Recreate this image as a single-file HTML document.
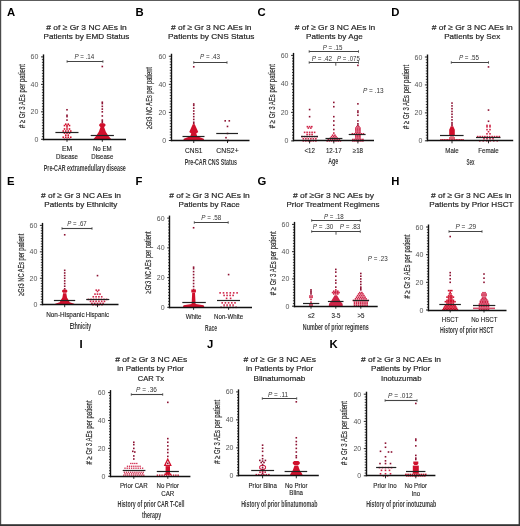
<!DOCTYPE html><html><head><meta charset="utf-8"><style>html,body{margin:0;padding:0;background:#fff}body{position:relative;width:520px;height:526px;overflow:hidden}svg{display:block;filter:blur(0.4px)}svg.bd{position:absolute;left:0;top:0;filter:none}</style></head><body>
<svg width="520" height="526" viewBox="0 0 520 526" font-family='"Liberation Sans", sans-serif'>
<rect x="0" y="0" width="520" height="526" fill="#fff"/>
<text x="6.90" y="16.20" font-size="11.3" text-anchor="start" fill="#000" font-weight="bold" font-style="normal">A</text>
<text x="86.55" y="29.80" font-size="8" text-anchor="middle" fill="#262626" font-weight="normal" font-style="normal" textLength="80.40" lengthAdjust="spacingAndGlyphs" stroke="#262626" stroke-width="0.2"># of ≥ Gr 3 NC AEs in</text>
<text x="86.45" y="39.20" font-size="8" text-anchor="middle" fill="#262626" font-weight="normal" font-style="normal" textLength="85.80" lengthAdjust="spacingAndGlyphs" stroke="#262626" stroke-width="0.2">Patients by EMD Status</text>
<rect x="66.20" y="108.97" width="1.6" height="1.6" fill="#8c1232"/>
<rect x="66.20" y="114.47" width="1.6" height="1.6" fill="#8c1232"/>
<rect x="66.20" y="115.84" width="1.6" height="1.6" fill="#8c1232"/>
<rect x="66.20" y="119.27" width="1.6" height="1.6" fill="#8c1232"/>
<rect x="64.95" y="123.39" width="1.6" height="1.6" fill="#d0102c"/>
<rect x="67.45" y="123.39" width="1.6" height="1.6" fill="#d0102c"/>
<rect x="63.70" y="124.77" width="1.6" height="1.6" fill="#d0102c"/>
<rect x="66.20" y="124.77" width="1.6" height="1.6" fill="#d0102c"/>
<rect x="68.70" y="124.77" width="1.6" height="1.6" fill="#d0102c"/>
<rect x="66.20" y="126.14" width="1.6" height="1.6" fill="#d0102c"/>
<rect x="63.70" y="128.20" width="1.6" height="1.6" fill="#d0102c"/>
<rect x="66.20" y="128.20" width="1.6" height="1.6" fill="#d0102c"/>
<rect x="68.70" y="128.20" width="1.6" height="1.6" fill="#d0102c"/>
<rect x="62.45" y="130.26" width="1.6" height="1.6" fill="#d0102c"/>
<rect x="64.95" y="130.26" width="1.6" height="1.6" fill="#d0102c"/>
<rect x="67.45" y="130.26" width="1.6" height="1.6" fill="#d0102c"/>
<rect x="69.95" y="130.26" width="1.6" height="1.6" fill="#d0102c"/>
<rect x="63.70" y="132.32" width="1.6" height="1.6" fill="#d0102c"/>
<rect x="66.20" y="132.32" width="1.6" height="1.6" fill="#d0102c"/>
<rect x="68.70" y="132.32" width="1.6" height="1.6" fill="#d0102c"/>
<rect x="64.95" y="134.38" width="1.6" height="1.6" fill="#d0102c"/>
<rect x="67.45" y="134.38" width="1.6" height="1.6" fill="#d0102c"/>
<rect x="62.45" y="136.44" width="1.6" height="1.6" fill="#d0102c"/>
<rect x="64.95" y="136.44" width="1.6" height="1.6" fill="#d0102c"/>
<rect x="67.45" y="136.44" width="1.6" height="1.6" fill="#d0102c"/>
<rect x="69.95" y="136.44" width="1.6" height="1.6" fill="#d0102c"/>
<rect x="63.70" y="138.50" width="1.6" height="1.6" fill="#d0102c"/>
<rect x="66.20" y="138.50" width="1.6" height="1.6" fill="#d0102c"/>
<rect x="68.70" y="138.50" width="1.6" height="1.6" fill="#d0102c"/>
<line x1="55.40" y1="132.50" x2="78.50" y2="132.50" stroke="#222" stroke-width="1.2"/>
<rect x="101.50" y="65.71" width="1.6" height="1.6" fill="#8c1232"/>
<rect x="101.50" y="101.42" width="1.6" height="1.6" fill="#8c1232"/>
<rect x="101.50" y="102.79" width="1.6" height="1.6" fill="#8c1232"/>
<rect x="101.50" y="105.54" width="1.6" height="1.6" fill="#8c1232"/>
<rect x="101.50" y="108.29" width="1.6" height="1.6" fill="#8c1232"/>
<rect x="101.50" y="111.03" width="1.6" height="1.6" fill="#8c1232"/>
<rect x="101.50" y="115.15" width="1.6" height="1.6" fill="#8c1232"/>
<rect x="101.50" y="119.27" width="1.6" height="1.6" fill="#8c1232"/>
<rect x="101.50" y="120.65" width="1.6" height="1.6" fill="#8c1232"/>
<rect x="101.50" y="122.02" width="1.6" height="1.6" fill="#8c1232"/>
<polygon points="100.44,126.94 99.20,125.87 99.20,124.44 100.44,123.37 104.16,123.37 105.40,124.44 105.40,125.87 104.16,126.94" fill="#d0102c"/>
<polygon points="93.10,139.57 96.30,135.87 98.80,131.75 100.80,126.25 103.80,126.25 105.80,131.75 108.30,135.87 111.50,139.57" fill="#d0102c"/>
<line x1="90.70" y1="135.50" x2="113.90" y2="135.50" stroke="#222" stroke-width="1.2"/>
<line x1="43.50" y1="54.40" x2="43.50" y2="140.20" stroke="#111" stroke-width="1.4"/>
<line x1="42.80" y1="139.50" x2="126.00" y2="139.50" stroke="#111" stroke-width="1.4"/>
<line x1="41.00" y1="139.30" x2="43.40" y2="139.30" stroke="#111" stroke-width="0.9"/>
<text x="38.40" y="141.80" font-size="7" text-anchor="end" fill="#555" font-weight="normal" font-style="normal">0</text>
<line x1="41.90" y1="136.55" x2="43.40" y2="136.55" stroke="#111" stroke-width="0.8"/>
<line x1="41.90" y1="133.81" x2="43.40" y2="133.81" stroke="#111" stroke-width="0.8"/>
<line x1="41.90" y1="131.06" x2="43.40" y2="131.06" stroke="#111" stroke-width="0.8"/>
<line x1="41.90" y1="128.31" x2="43.40" y2="128.31" stroke="#111" stroke-width="0.8"/>
<line x1="41.90" y1="125.57" x2="43.40" y2="125.57" stroke="#111" stroke-width="0.8"/>
<line x1="41.90" y1="122.82" x2="43.40" y2="122.82" stroke="#111" stroke-width="0.8"/>
<line x1="41.90" y1="120.07" x2="43.40" y2="120.07" stroke="#111" stroke-width="0.8"/>
<line x1="41.90" y1="117.33" x2="43.40" y2="117.33" stroke="#111" stroke-width="0.8"/>
<line x1="41.90" y1="114.58" x2="43.40" y2="114.58" stroke="#111" stroke-width="0.8"/>
<line x1="41.00" y1="111.83" x2="43.40" y2="111.83" stroke="#111" stroke-width="0.9"/>
<text x="38.40" y="114.33" font-size="7" text-anchor="end" fill="#555" font-weight="normal" font-style="normal">20</text>
<line x1="41.90" y1="109.09" x2="43.40" y2="109.09" stroke="#111" stroke-width="0.8"/>
<line x1="41.90" y1="106.34" x2="43.40" y2="106.34" stroke="#111" stroke-width="0.8"/>
<line x1="41.90" y1="103.59" x2="43.40" y2="103.59" stroke="#111" stroke-width="0.8"/>
<line x1="41.90" y1="100.85" x2="43.40" y2="100.85" stroke="#111" stroke-width="0.8"/>
<line x1="41.90" y1="98.10" x2="43.40" y2="98.10" stroke="#111" stroke-width="0.8"/>
<line x1="41.90" y1="95.35" x2="43.40" y2="95.35" stroke="#111" stroke-width="0.8"/>
<line x1="41.90" y1="92.61" x2="43.40" y2="92.61" stroke="#111" stroke-width="0.8"/>
<line x1="41.90" y1="89.86" x2="43.40" y2="89.86" stroke="#111" stroke-width="0.8"/>
<line x1="41.90" y1="87.11" x2="43.40" y2="87.11" stroke="#111" stroke-width="0.8"/>
<line x1="41.00" y1="84.37" x2="43.40" y2="84.37" stroke="#111" stroke-width="0.9"/>
<text x="38.40" y="86.87" font-size="7" text-anchor="end" fill="#555" font-weight="normal" font-style="normal">40</text>
<line x1="41.90" y1="81.62" x2="43.40" y2="81.62" stroke="#111" stroke-width="0.8"/>
<line x1="41.90" y1="78.87" x2="43.40" y2="78.87" stroke="#111" stroke-width="0.8"/>
<line x1="41.90" y1="76.13" x2="43.40" y2="76.13" stroke="#111" stroke-width="0.8"/>
<line x1="41.90" y1="73.38" x2="43.40" y2="73.38" stroke="#111" stroke-width="0.8"/>
<line x1="41.90" y1="70.63" x2="43.40" y2="70.63" stroke="#111" stroke-width="0.8"/>
<line x1="41.90" y1="67.89" x2="43.40" y2="67.89" stroke="#111" stroke-width="0.8"/>
<line x1="41.90" y1="65.14" x2="43.40" y2="65.14" stroke="#111" stroke-width="0.8"/>
<line x1="41.90" y1="62.39" x2="43.40" y2="62.39" stroke="#111" stroke-width="0.8"/>
<line x1="41.90" y1="59.65" x2="43.40" y2="59.65" stroke="#111" stroke-width="0.8"/>
<line x1="41.00" y1="56.90" x2="43.40" y2="56.90" stroke="#111" stroke-width="0.9"/>
<text x="38.40" y="59.40" font-size="7" text-anchor="end" fill="#555" font-weight="normal" font-style="normal">60</text>
<line x1="67.00" y1="139.30" x2="67.00" y2="141.80" stroke="#111" stroke-width="0.9"/>
<line x1="102.30" y1="139.30" x2="102.30" y2="141.80" stroke="#111" stroke-width="0.9"/>
<text transform="translate(24.60,96.10) rotate(-90)" x="0" y="0" font-size="8.8" font-weight="normal" text-anchor="middle" fill="#333" stroke="#333" stroke-width="0.22" textLength="64" lengthAdjust="spacingAndGlyphs"># ≥ Gr 3 AEs per patient</text>
<text x="67.00" y="151.00" font-size="7" text-anchor="middle" fill="#222" font-weight="normal" font-style="normal" textLength="10.20" lengthAdjust="spacingAndGlyphs" stroke="#222" stroke-width="0.12">EM</text>
<text x="67.00" y="158.70" font-size="7" text-anchor="middle" fill="#222" font-weight="normal" font-style="normal" textLength="22.00" lengthAdjust="spacingAndGlyphs" stroke="#222" stroke-width="0.12">Disease</text>
<text x="102.30" y="151.00" font-size="7" text-anchor="middle" fill="#222" font-weight="normal" font-style="normal" textLength="18.83" lengthAdjust="spacingAndGlyphs" stroke="#222" stroke-width="0.12">No EM</text>
<text x="102.30" y="158.70" font-size="7" text-anchor="middle" fill="#222" font-weight="normal" font-style="normal" textLength="22.00" lengthAdjust="spacingAndGlyphs" stroke="#222" stroke-width="0.12">Disease</text>
<text x="84.80" y="170.50" font-size="9" text-anchor="middle" fill="#383838" font-weight="bold" font-style="normal" textLength="82.00" lengthAdjust="spacingAndGlyphs">Pre-CAR extramedullary disease</text>
<line x1="67.10" y1="61.50" x2="102.90" y2="61.50" stroke="#444" stroke-width="1.1"/>
<line x1="67.10" y1="60.30" x2="67.10" y2="62.70" stroke="#444" stroke-width="0.9"/>
<line x1="102.90" y1="60.30" x2="102.90" y2="62.70" stroke="#444" stroke-width="0.9"/>
<text x="84.35" y="58.70" font-size="6.4" text-anchor="middle" fill="#333" textLength="19.90" lengthAdjust="spacingAndGlyphs"><tspan font-style="italic">P</tspan> = .14</text>
<text x="135.50" y="16.20" font-size="11.3" text-anchor="start" fill="#000" font-weight="bold" font-style="normal">B</text>
<text x="211.25" y="29.80" font-size="8" text-anchor="middle" fill="#262626" font-weight="normal" font-style="normal" textLength="80.50" lengthAdjust="spacingAndGlyphs" stroke="#262626" stroke-width="0.2"># of ≥ Gr 3 NC AEs in</text>
<text x="211.25" y="39.20" font-size="8" text-anchor="middle" fill="#262626" font-weight="normal" font-style="normal" textLength="86.50" lengthAdjust="spacingAndGlyphs" stroke="#262626" stroke-width="0.2">Patients by CNS Status</text>
<rect x="192.95" y="65.98" width="1.6" height="1.6" fill="#8c1232"/>
<rect x="192.95" y="103.19" width="1.6" height="1.6" fill="#8c1232"/>
<rect x="192.95" y="104.60" width="1.6" height="1.6" fill="#8c1232"/>
<rect x="192.95" y="107.40" width="1.6" height="1.6" fill="#8c1232"/>
<rect x="192.95" y="110.21" width="1.6" height="1.6" fill="#8c1232"/>
<rect x="192.95" y="113.02" width="1.6" height="1.6" fill="#8c1232"/>
<rect x="192.95" y="115.83" width="1.6" height="1.6" fill="#8c1232"/>
<rect x="192.95" y="118.64" width="1.6" height="1.6" fill="#8c1232"/>
<rect x="192.95" y="121.45" width="1.6" height="1.6" fill="#8c1232"/>
<rect x="192.95" y="122.85" width="1.6" height="1.6" fill="#8c1232"/>
<polygon points="192.75,124.35 194.75,124.35 198.25,132.07 196.25,133.48 197.25,136.29 203.75,138.81 204.25,140.78 183.25,140.78 183.75,138.81 190.25,136.29 191.25,133.48 189.25,132.07" fill="#d0102c"/>
<line x1="182.50" y1="136.50" x2="204.50" y2="136.50" stroke="#222" stroke-width="1.2"/>
<rect x="224.40" y="120.04" width="1.6" height="1.6" fill="#8c1232"/>
<rect x="228.50" y="120.04" width="1.6" height="1.6" fill="#8c1232"/>
<rect x="226.70" y="125.66" width="1.6" height="1.6" fill="#8c1232"/>
<rect x="226.70" y="132.68" width="1.6" height="1.6" fill="#8c1232"/>
<rect x="225.20" y="136.89" width="1.6" height="1.6" fill="#8c1232"/>
<rect x="227.20" y="139.70" width="1.6" height="1.6" fill="#8c1232"/>
<line x1="216.25" y1="133.50" x2="238.00" y2="133.50" stroke="#222" stroke-width="1.2"/>
<line x1="171.50" y1="53.75" x2="171.50" y2="141.20" stroke="#111" stroke-width="1.4"/>
<line x1="170.80" y1="140.50" x2="249.50" y2="140.50" stroke="#111" stroke-width="1.4"/>
<line x1="168.85" y1="140.50" x2="171.25" y2="140.50" stroke="#111" stroke-width="0.9"/>
<text x="166.25" y="143.00" font-size="7" text-anchor="end" fill="#555" font-weight="normal" font-style="normal">0</text>
<line x1="169.75" y1="137.69" x2="171.25" y2="137.69" stroke="#111" stroke-width="0.8"/>
<line x1="169.75" y1="134.88" x2="171.25" y2="134.88" stroke="#111" stroke-width="0.8"/>
<line x1="169.75" y1="132.07" x2="171.25" y2="132.07" stroke="#111" stroke-width="0.8"/>
<line x1="169.75" y1="129.27" x2="171.25" y2="129.27" stroke="#111" stroke-width="0.8"/>
<line x1="169.75" y1="126.46" x2="171.25" y2="126.46" stroke="#111" stroke-width="0.8"/>
<line x1="169.75" y1="123.65" x2="171.25" y2="123.65" stroke="#111" stroke-width="0.8"/>
<line x1="169.75" y1="120.84" x2="171.25" y2="120.84" stroke="#111" stroke-width="0.8"/>
<line x1="169.75" y1="118.03" x2="171.25" y2="118.03" stroke="#111" stroke-width="0.8"/>
<line x1="169.75" y1="115.22" x2="171.25" y2="115.22" stroke="#111" stroke-width="0.8"/>
<line x1="168.85" y1="112.42" x2="171.25" y2="112.42" stroke="#111" stroke-width="0.9"/>
<text x="166.25" y="114.92" font-size="7" text-anchor="end" fill="#555" font-weight="normal" font-style="normal">20</text>
<line x1="169.75" y1="109.61" x2="171.25" y2="109.61" stroke="#111" stroke-width="0.8"/>
<line x1="169.75" y1="106.80" x2="171.25" y2="106.80" stroke="#111" stroke-width="0.8"/>
<line x1="169.75" y1="103.99" x2="171.25" y2="103.99" stroke="#111" stroke-width="0.8"/>
<line x1="169.75" y1="101.18" x2="171.25" y2="101.18" stroke="#111" stroke-width="0.8"/>
<line x1="169.75" y1="98.38" x2="171.25" y2="98.38" stroke="#111" stroke-width="0.8"/>
<line x1="169.75" y1="95.57" x2="171.25" y2="95.57" stroke="#111" stroke-width="0.8"/>
<line x1="169.75" y1="92.76" x2="171.25" y2="92.76" stroke="#111" stroke-width="0.8"/>
<line x1="169.75" y1="89.95" x2="171.25" y2="89.95" stroke="#111" stroke-width="0.8"/>
<line x1="169.75" y1="87.14" x2="171.25" y2="87.14" stroke="#111" stroke-width="0.8"/>
<line x1="168.85" y1="84.33" x2="171.25" y2="84.33" stroke="#111" stroke-width="0.9"/>
<text x="166.25" y="86.83" font-size="7" text-anchor="end" fill="#555" font-weight="normal" font-style="normal">40</text>
<line x1="169.75" y1="81.53" x2="171.25" y2="81.53" stroke="#111" stroke-width="0.8"/>
<line x1="169.75" y1="78.72" x2="171.25" y2="78.72" stroke="#111" stroke-width="0.8"/>
<line x1="169.75" y1="75.91" x2="171.25" y2="75.91" stroke="#111" stroke-width="0.8"/>
<line x1="169.75" y1="73.10" x2="171.25" y2="73.10" stroke="#111" stroke-width="0.8"/>
<line x1="169.75" y1="70.29" x2="171.25" y2="70.29" stroke="#111" stroke-width="0.8"/>
<line x1="169.75" y1="67.48" x2="171.25" y2="67.48" stroke="#111" stroke-width="0.8"/>
<line x1="169.75" y1="64.68" x2="171.25" y2="64.68" stroke="#111" stroke-width="0.8"/>
<line x1="169.75" y1="61.87" x2="171.25" y2="61.87" stroke="#111" stroke-width="0.8"/>
<line x1="169.75" y1="59.06" x2="171.25" y2="59.06" stroke="#111" stroke-width="0.8"/>
<line x1="168.85" y1="56.25" x2="171.25" y2="56.25" stroke="#111" stroke-width="0.9"/>
<text x="166.25" y="58.75" font-size="7" text-anchor="end" fill="#555" font-weight="normal" font-style="normal">60</text>
<line x1="193.75" y1="140.50" x2="193.75" y2="143.00" stroke="#111" stroke-width="0.9"/>
<line x1="227.50" y1="140.50" x2="227.50" y2="143.00" stroke="#111" stroke-width="0.9"/>
<text transform="translate(152.45,98.08) rotate(-90)" x="0" y="0" font-size="8.8" font-weight="normal" text-anchor="middle" fill="#333" stroke="#333" stroke-width="0.22" textLength="62" lengthAdjust="spacingAndGlyphs">≥Gr3 NC AEs per patient</text>
<text x="193.75" y="152.50" font-size="7" text-anchor="middle" fill="#222" font-weight="normal" font-style="normal" textLength="17.60" lengthAdjust="spacingAndGlyphs" stroke="#222" stroke-width="0.12">CNS1</text>
<text x="227.50" y="152.50" font-size="7" text-anchor="middle" fill="#222" font-weight="normal" font-style="normal" textLength="22.40" lengthAdjust="spacingAndGlyphs" stroke="#222" stroke-width="0.12">CNS2+</text>
<text x="210.80" y="164.55" font-size="9" text-anchor="middle" fill="#383838" font-weight="bold" font-style="normal" textLength="52.30" lengthAdjust="spacingAndGlyphs">Pre-CAR CNS Status</text>
<line x1="193.75" y1="62.50" x2="227.00" y2="62.50" stroke="#444" stroke-width="1.1"/>
<line x1="193.75" y1="61.30" x2="193.75" y2="63.70" stroke="#444" stroke-width="0.9"/>
<line x1="227.00" y1="61.30" x2="227.00" y2="63.70" stroke="#444" stroke-width="0.9"/>
<text x="210.00" y="58.60" font-size="6.4" text-anchor="middle" fill="#333" textLength="20.00" lengthAdjust="spacingAndGlyphs"><tspan font-style="italic">P</tspan> = .43</text>
<text x="257.50" y="16.20" font-size="11.3" text-anchor="start" fill="#000" font-weight="bold" font-style="normal">C</text>
<text x="335.00" y="29.80" font-size="8" text-anchor="middle" fill="#262626" font-weight="normal" font-style="normal" textLength="80.50" lengthAdjust="spacingAndGlyphs" stroke="#262626" stroke-width="0.2"># of ≥ Gr 3 NC AEs in</text>
<text x="334.40" y="39.20" font-size="8" text-anchor="middle" fill="#262626" font-weight="normal" font-style="normal" textLength="56.70" lengthAdjust="spacingAndGlyphs" stroke="#262626" stroke-width="0.2">Patients by Age</text>
<rect x="308.80" y="108.75" width="1.6" height="1.6" fill="#8c1232"/>
<rect x="308.80" y="115.88" width="1.6" height="1.6" fill="#8c1232"/>
<rect x="306.60" y="125.85" width="1.6" height="1.6" fill="#cf2448"/>
<rect x="308.80" y="125.85" width="1.6" height="1.6" fill="#cf2448"/>
<rect x="311.00" y="125.85" width="1.6" height="1.6" fill="#cf2448"/>
<rect x="307.55" y="127.28" width="1.6" height="1.6" fill="#cf2448"/>
<rect x="310.05" y="127.28" width="1.6" height="1.6" fill="#cf2448"/>
<rect x="303.80" y="131.55" width="1.6" height="1.6" fill="#cf2448"/>
<rect x="306.30" y="131.55" width="1.6" height="1.6" fill="#cf2448"/>
<rect x="308.80" y="131.55" width="1.6" height="1.6" fill="#cf2448"/>
<rect x="311.30" y="131.55" width="1.6" height="1.6" fill="#cf2448"/>
<rect x="313.80" y="131.55" width="1.6" height="1.6" fill="#cf2448"/>
<rect x="306.30" y="133.69" width="1.6" height="1.6" fill="#cf2448"/>
<rect x="308.80" y="133.69" width="1.6" height="1.6" fill="#cf2448"/>
<rect x="311.30" y="133.69" width="1.6" height="1.6" fill="#cf2448"/>
<rect x="301.30" y="135.82" width="1.6" height="1.6" fill="#cf2448"/>
<rect x="303.80" y="135.82" width="1.6" height="1.6" fill="#cf2448"/>
<rect x="306.30" y="135.82" width="1.6" height="1.6" fill="#cf2448"/>
<rect x="308.80" y="135.82" width="1.6" height="1.6" fill="#cf2448"/>
<rect x="311.30" y="135.82" width="1.6" height="1.6" fill="#cf2448"/>
<rect x="313.80" y="135.82" width="1.6" height="1.6" fill="#cf2448"/>
<rect x="316.30" y="135.82" width="1.6" height="1.6" fill="#cf2448"/>
<rect x="302.55" y="137.96" width="1.6" height="1.6" fill="#cf2448"/>
<rect x="305.05" y="137.96" width="1.6" height="1.6" fill="#cf2448"/>
<rect x="307.55" y="137.96" width="1.6" height="1.6" fill="#cf2448"/>
<rect x="310.05" y="137.96" width="1.6" height="1.6" fill="#cf2448"/>
<rect x="312.55" y="137.96" width="1.6" height="1.6" fill="#cf2448"/>
<rect x="315.05" y="137.96" width="1.6" height="1.6" fill="#cf2448"/>
<rect x="302.55" y="140.10" width="1.6" height="1.6" fill="#cf2448"/>
<rect x="305.05" y="140.10" width="1.6" height="1.6" fill="#cf2448"/>
<rect x="307.55" y="140.10" width="1.6" height="1.6" fill="#cf2448"/>
<rect x="310.05" y="140.10" width="1.6" height="1.6" fill="#cf2448"/>
<rect x="312.55" y="140.10" width="1.6" height="1.6" fill="#cf2448"/>
<rect x="315.05" y="140.10" width="1.6" height="1.6" fill="#cf2448"/>
<line x1="301.00" y1="136.50" x2="318.00" y2="136.50" stroke="#222" stroke-width="1.2"/>
<rect x="333.00" y="101.63" width="1.6" height="1.6" fill="#8c1232"/>
<rect x="333.00" y="105.90" width="1.6" height="1.6" fill="#8c1232"/>
<rect x="333.00" y="115.88" width="1.6" height="1.6" fill="#8c1232"/>
<rect x="333.00" y="120.15" width="1.6" height="1.6" fill="#8c1232"/>
<rect x="333.00" y="124.43" width="1.6" height="1.6" fill="#8c1232"/>
<rect x="333.00" y="128.70" width="1.6" height="1.6" fill="#8c1232"/>
<rect x="333.00" y="132.26" width="1.6" height="1.6" fill="#cf2448"/>
<rect x="331.90" y="134.40" width="1.6" height="1.6" fill="#cf2448"/>
<rect x="334.10" y="134.40" width="1.6" height="1.6" fill="#cf2448"/>
<rect x="330.80" y="135.82" width="1.6" height="1.6" fill="#cf2448"/>
<rect x="333.00" y="135.82" width="1.6" height="1.6" fill="#cf2448"/>
<rect x="335.20" y="135.82" width="1.6" height="1.6" fill="#cf2448"/>
<rect x="329.70" y="137.25" width="1.6" height="1.6" fill="#cf2448"/>
<rect x="331.90" y="137.25" width="1.6" height="1.6" fill="#cf2448"/>
<rect x="334.10" y="137.25" width="1.6" height="1.6" fill="#cf2448"/>
<rect x="336.30" y="137.25" width="1.6" height="1.6" fill="#cf2448"/>
<rect x="327.50" y="138.67" width="1.6" height="1.6" fill="#cf2448"/>
<rect x="329.70" y="138.67" width="1.6" height="1.6" fill="#cf2448"/>
<rect x="331.90" y="138.67" width="1.6" height="1.6" fill="#cf2448"/>
<rect x="334.10" y="138.67" width="1.6" height="1.6" fill="#cf2448"/>
<rect x="336.30" y="138.67" width="1.6" height="1.6" fill="#cf2448"/>
<rect x="338.50" y="138.67" width="1.6" height="1.6" fill="#cf2448"/>
<rect x="326.40" y="140.10" width="1.6" height="1.6" fill="#cf2448"/>
<rect x="328.60" y="140.10" width="1.6" height="1.6" fill="#cf2448"/>
<rect x="330.80" y="140.10" width="1.6" height="1.6" fill="#cf2448"/>
<rect x="333.00" y="140.10" width="1.6" height="1.6" fill="#cf2448"/>
<rect x="335.20" y="140.10" width="1.6" height="1.6" fill="#cf2448"/>
<rect x="337.40" y="140.10" width="1.6" height="1.6" fill="#cf2448"/>
<rect x="339.60" y="140.10" width="1.6" height="1.6" fill="#cf2448"/>
<line x1="325.50" y1="138.50" x2="342.40" y2="138.50" stroke="#222" stroke-width="1.2"/>
<rect x="357.10" y="64.58" width="1.6" height="1.6" fill="#8c1232"/>
<rect x="357.10" y="103.05" width="1.6" height="1.6" fill="#8c1232"/>
<rect x="357.10" y="110.18" width="1.6" height="1.6" fill="#8c1232"/>
<rect x="357.10" y="111.60" width="1.6" height="1.6" fill="#8c1232"/>
<rect x="357.10" y="114.45" width="1.6" height="1.6" fill="#8c1232"/>
<rect x="357.10" y="120.15" width="1.6" height="1.6" fill="#8c1232"/>
<rect x="357.10" y="123.00" width="1.6" height="1.6" fill="#8c1232"/>
<rect x="357.10" y="124.43" width="1.6" height="1.6" fill="#8c1232"/>
<rect x="356.10" y="125.85" width="1.6" height="1.6" fill="#cf2448"/>
<rect x="358.10" y="125.85" width="1.6" height="1.6" fill="#cf2448"/>
<rect x="355.10" y="127.28" width="1.6" height="1.6" fill="#cf2448"/>
<rect x="357.10" y="127.28" width="1.6" height="1.6" fill="#cf2448"/>
<rect x="359.10" y="127.28" width="1.6" height="1.6" fill="#cf2448"/>
<rect x="355.10" y="128.70" width="1.6" height="1.6" fill="#cf2448"/>
<rect x="357.10" y="128.70" width="1.6" height="1.6" fill="#cf2448"/>
<rect x="359.10" y="128.70" width="1.6" height="1.6" fill="#cf2448"/>
<rect x="355.10" y="130.12" width="1.6" height="1.6" fill="#cf2448"/>
<rect x="357.10" y="130.12" width="1.6" height="1.6" fill="#cf2448"/>
<rect x="359.10" y="130.12" width="1.6" height="1.6" fill="#cf2448"/>
<rect x="355.10" y="131.55" width="1.6" height="1.6" fill="#cf2448"/>
<rect x="357.10" y="131.55" width="1.6" height="1.6" fill="#cf2448"/>
<rect x="359.10" y="131.55" width="1.6" height="1.6" fill="#cf2448"/>
<rect x="351.60" y="132.97" width="1.6" height="1.6" fill="#cf2448"/>
<rect x="353.80" y="132.97" width="1.6" height="1.6" fill="#cf2448"/>
<rect x="356.00" y="132.97" width="1.6" height="1.6" fill="#cf2448"/>
<rect x="358.20" y="132.97" width="1.6" height="1.6" fill="#cf2448"/>
<rect x="360.40" y="132.97" width="1.6" height="1.6" fill="#cf2448"/>
<rect x="362.60" y="132.97" width="1.6" height="1.6" fill="#cf2448"/>
<rect x="355.10" y="134.40" width="1.6" height="1.6" fill="#cf2448"/>
<rect x="357.10" y="134.40" width="1.6" height="1.6" fill="#cf2448"/>
<rect x="359.10" y="134.40" width="1.6" height="1.6" fill="#cf2448"/>
<rect x="355.10" y="135.82" width="1.6" height="1.6" fill="#cf2448"/>
<rect x="357.10" y="135.82" width="1.6" height="1.6" fill="#cf2448"/>
<rect x="359.10" y="135.82" width="1.6" height="1.6" fill="#cf2448"/>
<rect x="355.10" y="137.25" width="1.6" height="1.6" fill="#cf2448"/>
<rect x="357.10" y="137.25" width="1.6" height="1.6" fill="#cf2448"/>
<rect x="359.10" y="137.25" width="1.6" height="1.6" fill="#cf2448"/>
<rect x="352.10" y="138.67" width="1.6" height="1.6" fill="#cf2448"/>
<rect x="354.10" y="138.67" width="1.6" height="1.6" fill="#cf2448"/>
<rect x="356.10" y="138.67" width="1.6" height="1.6" fill="#cf2448"/>
<rect x="358.10" y="138.67" width="1.6" height="1.6" fill="#cf2448"/>
<rect x="360.10" y="138.67" width="1.6" height="1.6" fill="#cf2448"/>
<rect x="362.10" y="138.67" width="1.6" height="1.6" fill="#cf2448"/>
<rect x="352.10" y="140.10" width="1.6" height="1.6" fill="#cf2448"/>
<rect x="354.10" y="140.10" width="1.6" height="1.6" fill="#cf2448"/>
<rect x="356.10" y="140.10" width="1.6" height="1.6" fill="#cf2448"/>
<rect x="358.10" y="140.10" width="1.6" height="1.6" fill="#cf2448"/>
<rect x="360.10" y="140.10" width="1.6" height="1.6" fill="#cf2448"/>
<rect x="362.10" y="140.10" width="1.6" height="1.6" fill="#cf2448"/>
<line x1="348.70" y1="134.50" x2="365.60" y2="134.50" stroke="#222" stroke-width="1.2"/>
<line x1="293.50" y1="52.90" x2="293.50" y2="141.20" stroke="#111" stroke-width="1.4"/>
<line x1="292.80" y1="140.50" x2="374.00" y2="140.50" stroke="#111" stroke-width="1.4"/>
<line x1="291.10" y1="140.90" x2="293.50" y2="140.90" stroke="#111" stroke-width="0.9"/>
<text x="288.50" y="143.40" font-size="7" text-anchor="end" fill="#555" font-weight="normal" font-style="normal">0</text>
<line x1="292.00" y1="138.05" x2="293.50" y2="138.05" stroke="#111" stroke-width="0.8"/>
<line x1="292.00" y1="135.20" x2="293.50" y2="135.20" stroke="#111" stroke-width="0.8"/>
<line x1="292.00" y1="132.35" x2="293.50" y2="132.35" stroke="#111" stroke-width="0.8"/>
<line x1="292.00" y1="129.50" x2="293.50" y2="129.50" stroke="#111" stroke-width="0.8"/>
<line x1="292.00" y1="126.65" x2="293.50" y2="126.65" stroke="#111" stroke-width="0.8"/>
<line x1="292.00" y1="123.80" x2="293.50" y2="123.80" stroke="#111" stroke-width="0.8"/>
<line x1="292.00" y1="120.95" x2="293.50" y2="120.95" stroke="#111" stroke-width="0.8"/>
<line x1="292.00" y1="118.10" x2="293.50" y2="118.10" stroke="#111" stroke-width="0.8"/>
<line x1="292.00" y1="115.25" x2="293.50" y2="115.25" stroke="#111" stroke-width="0.8"/>
<line x1="291.10" y1="112.40" x2="293.50" y2="112.40" stroke="#111" stroke-width="0.9"/>
<text x="288.50" y="114.90" font-size="7" text-anchor="end" fill="#555" font-weight="normal" font-style="normal">20</text>
<line x1="292.00" y1="109.55" x2="293.50" y2="109.55" stroke="#111" stroke-width="0.8"/>
<line x1="292.00" y1="106.70" x2="293.50" y2="106.70" stroke="#111" stroke-width="0.8"/>
<line x1="292.00" y1="103.85" x2="293.50" y2="103.85" stroke="#111" stroke-width="0.8"/>
<line x1="292.00" y1="101.00" x2="293.50" y2="101.00" stroke="#111" stroke-width="0.8"/>
<line x1="292.00" y1="98.15" x2="293.50" y2="98.15" stroke="#111" stroke-width="0.8"/>
<line x1="292.00" y1="95.30" x2="293.50" y2="95.30" stroke="#111" stroke-width="0.8"/>
<line x1="292.00" y1="92.45" x2="293.50" y2="92.45" stroke="#111" stroke-width="0.8"/>
<line x1="292.00" y1="89.60" x2="293.50" y2="89.60" stroke="#111" stroke-width="0.8"/>
<line x1="292.00" y1="86.75" x2="293.50" y2="86.75" stroke="#111" stroke-width="0.8"/>
<line x1="291.10" y1="83.90" x2="293.50" y2="83.90" stroke="#111" stroke-width="0.9"/>
<text x="288.50" y="86.40" font-size="7" text-anchor="end" fill="#555" font-weight="normal" font-style="normal">40</text>
<line x1="292.00" y1="81.05" x2="293.50" y2="81.05" stroke="#111" stroke-width="0.8"/>
<line x1="292.00" y1="78.20" x2="293.50" y2="78.20" stroke="#111" stroke-width="0.8"/>
<line x1="292.00" y1="75.35" x2="293.50" y2="75.35" stroke="#111" stroke-width="0.8"/>
<line x1="292.00" y1="72.50" x2="293.50" y2="72.50" stroke="#111" stroke-width="0.8"/>
<line x1="292.00" y1="69.65" x2="293.50" y2="69.65" stroke="#111" stroke-width="0.8"/>
<line x1="292.00" y1="66.80" x2="293.50" y2="66.80" stroke="#111" stroke-width="0.8"/>
<line x1="292.00" y1="63.95" x2="293.50" y2="63.95" stroke="#111" stroke-width="0.8"/>
<line x1="292.00" y1="61.10" x2="293.50" y2="61.10" stroke="#111" stroke-width="0.8"/>
<line x1="292.00" y1="58.25" x2="293.50" y2="58.25" stroke="#111" stroke-width="0.8"/>
<line x1="291.10" y1="55.40" x2="293.50" y2="55.40" stroke="#111" stroke-width="0.9"/>
<text x="288.50" y="57.90" font-size="7" text-anchor="end" fill="#555" font-weight="normal" font-style="normal">60</text>
<line x1="309.60" y1="140.90" x2="309.60" y2="143.40" stroke="#111" stroke-width="0.9"/>
<line x1="333.80" y1="140.90" x2="333.80" y2="143.40" stroke="#111" stroke-width="0.9"/>
<line x1="357.90" y1="140.90" x2="357.90" y2="143.40" stroke="#111" stroke-width="0.9"/>
<text transform="translate(274.70,96.15) rotate(-90)" x="0" y="0" font-size="8.8" font-weight="normal" text-anchor="middle" fill="#333" stroke="#333" stroke-width="0.22" textLength="64" lengthAdjust="spacingAndGlyphs"># ≥ Gr 3 AEs per patient</text>
<text x="309.60" y="152.90" font-size="7" text-anchor="middle" fill="#222" font-weight="normal" font-style="normal" textLength="10.45" lengthAdjust="spacingAndGlyphs" stroke="#222" stroke-width="0.12">&lt;12</text>
<text x="333.80" y="152.90" font-size="7" text-anchor="middle" fill="#222" font-weight="normal" font-style="normal" textLength="15.75" lengthAdjust="spacingAndGlyphs" stroke="#222" stroke-width="0.12">12-17</text>
<text x="357.90" y="152.90" font-size="7" text-anchor="middle" fill="#222" font-weight="normal" font-style="normal" textLength="10.23" lengthAdjust="spacingAndGlyphs" stroke="#222" stroke-width="0.12">≥18</text>
<text x="333.20" y="164.30" font-size="9" text-anchor="middle" fill="#383838" font-weight="bold" font-style="normal" textLength="10.00" lengthAdjust="spacingAndGlyphs">Age</text>
<line x1="309.20" y1="51.50" x2="358.50" y2="51.50" stroke="#444" stroke-width="1.1"/>
<line x1="309.20" y1="50.30" x2="309.20" y2="52.70" stroke="#444" stroke-width="0.9"/>
<line x1="358.50" y1="50.30" x2="358.50" y2="52.70" stroke="#444" stroke-width="0.9"/>
<line x1="309.20" y1="62.50" x2="358.50" y2="62.50" stroke="#444" stroke-width="1.1"/>
<line x1="309.20" y1="61.30" x2="309.20" y2="63.70" stroke="#444" stroke-width="0.9"/>
<line x1="358.50" y1="61.30" x2="358.50" y2="63.70" stroke="#444" stroke-width="0.9"/>
<line x1="335.80" y1="62.00" x2="335.80" y2="65.70" stroke="#444" stroke-width="0.9"/>
<text x="332.60" y="50.40" font-size="6.4" text-anchor="middle" fill="#333" textLength="19.80" lengthAdjust="spacingAndGlyphs"><tspan font-style="italic">P</tspan> = .15</text>
<text x="321.85" y="60.60" font-size="6.4" text-anchor="middle" fill="#333" textLength="20.30" lengthAdjust="spacingAndGlyphs"><tspan font-style="italic">P</tspan> = .42</text>
<text x="348.45" y="60.60" font-size="6.4" text-anchor="middle" fill="#333" textLength="22.70" lengthAdjust="spacingAndGlyphs"><tspan font-style="italic">P</tspan> = .075</text>
<text x="373.25" y="93.30" font-size="6.4" text-anchor="middle" fill="#333" textLength="20.70" lengthAdjust="spacingAndGlyphs"><tspan font-style="italic">P</tspan> = .13</text>
<text x="391.25" y="16.20" font-size="11.3" text-anchor="start" fill="#000" font-weight="bold" font-style="normal">D</text>
<text x="472.25" y="29.80" font-size="8" text-anchor="middle" fill="#262626" font-weight="normal" font-style="normal" textLength="81.00" lengthAdjust="spacingAndGlyphs" stroke="#262626" stroke-width="0.2"># of ≥ Gr 3 NC AEs in</text>
<text x="472.25" y="39.20" font-size="8" text-anchor="middle" fill="#262626" font-weight="normal" font-style="normal" textLength="56.00" lengthAdjust="spacingAndGlyphs" stroke="#262626" stroke-width="0.2">Patients by Sex</text>
<rect x="451.20" y="102.29" width="1.6" height="1.6" fill="#8c1232"/>
<rect x="451.20" y="105.08" width="1.6" height="1.6" fill="#8c1232"/>
<rect x="451.20" y="107.88" width="1.6" height="1.6" fill="#8c1232"/>
<rect x="451.20" y="110.67" width="1.6" height="1.6" fill="#8c1232"/>
<rect x="451.20" y="113.46" width="1.6" height="1.6" fill="#8c1232"/>
<rect x="451.20" y="116.26" width="1.6" height="1.6" fill="#8c1232"/>
<rect x="451.20" y="119.05" width="1.6" height="1.6" fill="#8c1232"/>
<rect x="451.20" y="121.84" width="1.6" height="1.6" fill="#8c1232"/>
<rect x="451.20" y="123.24" width="1.6" height="1.6" fill="#8c1232"/>
<rect x="451.20" y="124.64" width="1.6" height="1.6" fill="#8c1232"/>
<polygon points="450.80,126.14 453.20,126.14 454.80,129.63 454.80,134.52 453.80,136.61 450.20,136.61 449.20,134.52 449.20,129.63" fill="#d0102c"/>
<rect x="449.20" y="137.21" width="1.6" height="1.6" fill="#d0102c"/>
<rect x="451.20" y="137.21" width="1.6" height="1.6" fill="#d0102c"/>
<rect x="453.20" y="137.21" width="1.6" height="1.6" fill="#d0102c"/>
<rect x="440.15" y="139.16" width="1.6" height="1.6" fill="#d0102c"/>
<rect x="441.85" y="139.16" width="1.6" height="1.6" fill="#d0102c"/>
<rect x="443.55" y="139.16" width="1.6" height="1.6" fill="#d0102c"/>
<rect x="445.25" y="139.16" width="1.6" height="1.6" fill="#d0102c"/>
<rect x="446.95" y="139.16" width="1.6" height="1.6" fill="#d0102c"/>
<rect x="448.65" y="139.16" width="1.6" height="1.6" fill="#d0102c"/>
<rect x="450.35" y="139.16" width="1.6" height="1.6" fill="#d0102c"/>
<rect x="452.05" y="139.16" width="1.6" height="1.6" fill="#d0102c"/>
<rect x="453.75" y="139.16" width="1.6" height="1.6" fill="#d0102c"/>
<rect x="455.45" y="139.16" width="1.6" height="1.6" fill="#d0102c"/>
<rect x="457.15" y="139.16" width="1.6" height="1.6" fill="#d0102c"/>
<rect x="458.85" y="139.16" width="1.6" height="1.6" fill="#d0102c"/>
<rect x="460.55" y="139.16" width="1.6" height="1.6" fill="#d0102c"/>
<rect x="462.25" y="139.16" width="1.6" height="1.6" fill="#d0102c"/>
<line x1="440.00" y1="135.50" x2="463.60" y2="135.50" stroke="#222" stroke-width="1.2"/>
<rect x="487.70" y="66.12" width="1.6" height="1.6" fill="#8c1232"/>
<rect x="487.70" y="109.27" width="1.6" height="1.6" fill="#8c1232"/>
<rect x="487.70" y="120.45" width="1.6" height="1.6" fill="#8c1232"/>
<rect x="486.20" y="124.64" width="1.6" height="1.6" fill="#cf2448"/>
<rect x="489.20" y="124.64" width="1.6" height="1.6" fill="#cf2448"/>
<rect x="486.20" y="126.03" width="1.6" height="1.6" fill="#cf2448"/>
<rect x="489.20" y="126.03" width="1.6" height="1.6" fill="#cf2448"/>
<rect x="486.20" y="128.83" width="1.6" height="1.6" fill="#cf2448"/>
<rect x="489.20" y="128.83" width="1.6" height="1.6" fill="#cf2448"/>
<rect x="487.70" y="130.92" width="1.6" height="1.6" fill="#cf2448"/>
<rect x="486.20" y="133.02" width="1.6" height="1.6" fill="#cf2448"/>
<rect x="489.20" y="133.02" width="1.6" height="1.6" fill="#cf2448"/>
<rect x="476.90" y="135.81" width="1.6" height="1.6" fill="#cf2448"/>
<rect x="479.30" y="135.81" width="1.6" height="1.6" fill="#cf2448"/>
<rect x="481.70" y="135.81" width="1.6" height="1.6" fill="#cf2448"/>
<rect x="484.10" y="135.81" width="1.6" height="1.6" fill="#cf2448"/>
<rect x="486.50" y="135.81" width="1.6" height="1.6" fill="#cf2448"/>
<rect x="488.90" y="135.81" width="1.6" height="1.6" fill="#cf2448"/>
<rect x="491.30" y="135.81" width="1.6" height="1.6" fill="#cf2448"/>
<rect x="493.70" y="135.81" width="1.6" height="1.6" fill="#cf2448"/>
<rect x="496.10" y="135.81" width="1.6" height="1.6" fill="#cf2448"/>
<rect x="498.50" y="135.81" width="1.6" height="1.6" fill="#cf2448"/>
<rect x="483.20" y="137.91" width="1.6" height="1.6" fill="#cf2448"/>
<rect x="486.20" y="137.91" width="1.6" height="1.6" fill="#cf2448"/>
<rect x="489.20" y="137.91" width="1.6" height="1.6" fill="#cf2448"/>
<rect x="492.20" y="137.91" width="1.6" height="1.6" fill="#cf2448"/>
<rect x="478.95" y="140.00" width="1.6" height="1.6" fill="#cf2448"/>
<rect x="482.45" y="140.00" width="1.6" height="1.6" fill="#cf2448"/>
<rect x="485.95" y="140.00" width="1.6" height="1.6" fill="#cf2448"/>
<rect x="489.45" y="140.00" width="1.6" height="1.6" fill="#cf2448"/>
<rect x="492.95" y="140.00" width="1.6" height="1.6" fill="#cf2448"/>
<rect x="496.45" y="140.00" width="1.6" height="1.6" fill="#cf2448"/>
<line x1="476.00" y1="137.50" x2="500.50" y2="137.50" stroke="#222" stroke-width="1.2"/>
<line x1="427.50" y1="54.50" x2="427.50" y2="141.20" stroke="#111" stroke-width="1.4"/>
<line x1="426.80" y1="140.50" x2="513.20" y2="140.50" stroke="#111" stroke-width="1.4"/>
<line x1="424.90" y1="140.80" x2="427.30" y2="140.80" stroke="#111" stroke-width="0.9"/>
<text x="422.30" y="143.30" font-size="7" text-anchor="end" fill="#555" font-weight="normal" font-style="normal">0</text>
<line x1="425.80" y1="138.01" x2="427.30" y2="138.01" stroke="#111" stroke-width="0.8"/>
<line x1="425.80" y1="135.21" x2="427.30" y2="135.21" stroke="#111" stroke-width="0.8"/>
<line x1="425.80" y1="132.42" x2="427.30" y2="132.42" stroke="#111" stroke-width="0.8"/>
<line x1="425.80" y1="129.63" x2="427.30" y2="129.63" stroke="#111" stroke-width="0.8"/>
<line x1="425.80" y1="126.83" x2="427.30" y2="126.83" stroke="#111" stroke-width="0.8"/>
<line x1="425.80" y1="124.04" x2="427.30" y2="124.04" stroke="#111" stroke-width="0.8"/>
<line x1="425.80" y1="121.25" x2="427.30" y2="121.25" stroke="#111" stroke-width="0.8"/>
<line x1="425.80" y1="118.45" x2="427.30" y2="118.45" stroke="#111" stroke-width="0.8"/>
<line x1="425.80" y1="115.66" x2="427.30" y2="115.66" stroke="#111" stroke-width="0.8"/>
<line x1="424.90" y1="112.87" x2="427.30" y2="112.87" stroke="#111" stroke-width="0.9"/>
<text x="422.30" y="115.37" font-size="7" text-anchor="end" fill="#555" font-weight="normal" font-style="normal">20</text>
<line x1="425.80" y1="110.07" x2="427.30" y2="110.07" stroke="#111" stroke-width="0.8"/>
<line x1="425.80" y1="107.28" x2="427.30" y2="107.28" stroke="#111" stroke-width="0.8"/>
<line x1="425.80" y1="104.49" x2="427.30" y2="104.49" stroke="#111" stroke-width="0.8"/>
<line x1="425.80" y1="101.69" x2="427.30" y2="101.69" stroke="#111" stroke-width="0.8"/>
<line x1="425.80" y1="98.90" x2="427.30" y2="98.90" stroke="#111" stroke-width="0.8"/>
<line x1="425.80" y1="96.11" x2="427.30" y2="96.11" stroke="#111" stroke-width="0.8"/>
<line x1="425.80" y1="93.31" x2="427.30" y2="93.31" stroke="#111" stroke-width="0.8"/>
<line x1="425.80" y1="90.52" x2="427.30" y2="90.52" stroke="#111" stroke-width="0.8"/>
<line x1="425.80" y1="87.73" x2="427.30" y2="87.73" stroke="#111" stroke-width="0.8"/>
<line x1="424.90" y1="84.93" x2="427.30" y2="84.93" stroke="#111" stroke-width="0.9"/>
<text x="422.30" y="87.43" font-size="7" text-anchor="end" fill="#555" font-weight="normal" font-style="normal">40</text>
<line x1="425.80" y1="82.14" x2="427.30" y2="82.14" stroke="#111" stroke-width="0.8"/>
<line x1="425.80" y1="79.35" x2="427.30" y2="79.35" stroke="#111" stroke-width="0.8"/>
<line x1="425.80" y1="76.55" x2="427.30" y2="76.55" stroke="#111" stroke-width="0.8"/>
<line x1="425.80" y1="73.76" x2="427.30" y2="73.76" stroke="#111" stroke-width="0.8"/>
<line x1="425.80" y1="70.97" x2="427.30" y2="70.97" stroke="#111" stroke-width="0.8"/>
<line x1="425.80" y1="68.17" x2="427.30" y2="68.17" stroke="#111" stroke-width="0.8"/>
<line x1="425.80" y1="65.38" x2="427.30" y2="65.38" stroke="#111" stroke-width="0.8"/>
<line x1="425.80" y1="62.59" x2="427.30" y2="62.59" stroke="#111" stroke-width="0.8"/>
<line x1="425.80" y1="59.79" x2="427.30" y2="59.79" stroke="#111" stroke-width="0.8"/>
<line x1="424.90" y1="57.00" x2="427.30" y2="57.00" stroke="#111" stroke-width="0.9"/>
<text x="422.30" y="59.50" font-size="7" text-anchor="end" fill="#555" font-weight="normal" font-style="normal">60</text>
<line x1="452.00" y1="140.80" x2="452.00" y2="143.30" stroke="#111" stroke-width="0.9"/>
<line x1="488.50" y1="140.80" x2="488.50" y2="143.30" stroke="#111" stroke-width="0.9"/>
<text transform="translate(408.50,96.90) rotate(-90)" x="0" y="0" font-size="8.8" font-weight="normal" text-anchor="middle" fill="#333" stroke="#333" stroke-width="0.22" textLength="64" lengthAdjust="spacingAndGlyphs"># ≥ Gr 3 AEs per patient</text>
<text x="452.00" y="152.80" font-size="7" text-anchor="middle" fill="#222" font-weight="normal" font-style="normal" textLength="13.35" lengthAdjust="spacingAndGlyphs" stroke="#222" stroke-width="0.12">Male</text>
<text x="488.50" y="152.80" font-size="7" text-anchor="middle" fill="#222" font-weight="normal" font-style="normal" textLength="20.54" lengthAdjust="spacingAndGlyphs" stroke="#222" stroke-width="0.12">Female</text>
<text x="470.40" y="164.50" font-size="9" text-anchor="middle" fill="#383838" font-weight="bold" font-style="normal" textLength="8.00" lengthAdjust="spacingAndGlyphs">Sex</text>
<line x1="451.30" y1="62.50" x2="488.50" y2="62.50" stroke="#444" stroke-width="1.1"/>
<line x1="451.30" y1="61.30" x2="451.30" y2="63.70" stroke="#444" stroke-width="0.9"/>
<line x1="488.50" y1="61.30" x2="488.50" y2="63.70" stroke="#444" stroke-width="0.9"/>
<text x="468.95" y="60.00" font-size="6.4" text-anchor="middle" fill="#333" textLength="20.10" lengthAdjust="spacingAndGlyphs"><tspan font-style="italic">P</tspan> = .55</text>
<text x="7.00" y="185.10" font-size="11.3" text-anchor="start" fill="#000" font-weight="bold" font-style="normal">E</text>
<text x="81.00" y="198.40" font-size="8" text-anchor="middle" fill="#262626" font-weight="normal" font-style="normal" textLength="80.00" lengthAdjust="spacingAndGlyphs" stroke="#262626" stroke-width="0.2"># of ≥ Gr 3 NC AEs in</text>
<text x="80.75" y="207.20" font-size="8" text-anchor="middle" fill="#262626" font-weight="normal" font-style="normal" textLength="73.00" lengthAdjust="spacingAndGlyphs" stroke="#262626" stroke-width="0.2">Patients by Ethnicity</text>
<rect x="63.90" y="233.98" width="1.6" height="1.6" fill="#8c1232"/>
<rect x="63.90" y="269.54" width="1.6" height="1.6" fill="#8c1232"/>
<rect x="63.90" y="272.18" width="1.6" height="1.6" fill="#8c1232"/>
<rect x="63.90" y="274.82" width="1.6" height="1.6" fill="#8c1232"/>
<rect x="63.90" y="277.47" width="1.6" height="1.6" fill="#8c1232"/>
<rect x="63.90" y="280.11" width="1.6" height="1.6" fill="#8c1232"/>
<rect x="63.90" y="282.75" width="1.6" height="1.6" fill="#8c1232"/>
<rect x="63.90" y="285.40" width="1.6" height="1.6" fill="#8c1232"/>
<rect x="63.90" y="288.04" width="1.6" height="1.6" fill="#8c1232"/>
<polygon points="63.14,292.81 62.10,291.81 62.10,290.49 63.14,289.50 66.26,289.50 67.30,290.49 67.30,291.81 66.26,292.81" fill="#d0102c"/>
<polygon points="54.70,304.96 55.20,303.64 59.70,302.32 60.90,300.07 62.40,297.43 63.10,293.20 66.30,293.20 67.00,297.43 68.50,300.07 69.70,302.32 74.20,303.64 74.70,304.96" fill="#d0102c"/>
<line x1="53.90" y1="300.50" x2="75.20" y2="300.50" stroke="#222" stroke-width="1.2"/>
<rect x="96.70" y="274.82" width="1.6" height="1.6" fill="#8c1232"/>
<rect x="95.45" y="289.36" width="1.6" height="1.6" fill="#cf2448"/>
<rect x="97.95" y="289.36" width="1.6" height="1.6" fill="#cf2448"/>
<rect x="96.70" y="290.68" width="1.6" height="1.6" fill="#cf2448"/>
<rect x="94.20" y="293.33" width="1.6" height="1.6" fill="#cf2448"/>
<rect x="96.70" y="293.33" width="1.6" height="1.6" fill="#cf2448"/>
<rect x="99.20" y="293.33" width="1.6" height="1.6" fill="#cf2448"/>
<rect x="92.50" y="295.97" width="1.6" height="1.6" fill="#cf2448"/>
<rect x="95.30" y="295.97" width="1.6" height="1.6" fill="#cf2448"/>
<rect x="98.10" y="295.97" width="1.6" height="1.6" fill="#cf2448"/>
<rect x="100.90" y="295.97" width="1.6" height="1.6" fill="#cf2448"/>
<rect x="87.60" y="298.61" width="1.6" height="1.6" fill="#cf2448"/>
<rect x="90.20" y="298.61" width="1.6" height="1.6" fill="#cf2448"/>
<rect x="92.80" y="298.61" width="1.6" height="1.6" fill="#cf2448"/>
<rect x="95.40" y="298.61" width="1.6" height="1.6" fill="#cf2448"/>
<rect x="98.00" y="298.61" width="1.6" height="1.6" fill="#cf2448"/>
<rect x="100.60" y="298.61" width="1.6" height="1.6" fill="#cf2448"/>
<rect x="103.20" y="298.61" width="1.6" height="1.6" fill="#cf2448"/>
<rect x="105.80" y="298.61" width="1.6" height="1.6" fill="#cf2448"/>
<rect x="89.70" y="300.60" width="1.6" height="1.6" fill="#cf2448"/>
<rect x="92.50" y="300.60" width="1.6" height="1.6" fill="#cf2448"/>
<rect x="95.30" y="300.60" width="1.6" height="1.6" fill="#cf2448"/>
<rect x="98.10" y="300.60" width="1.6" height="1.6" fill="#cf2448"/>
<rect x="100.90" y="300.60" width="1.6" height="1.6" fill="#cf2448"/>
<rect x="103.70" y="300.60" width="1.6" height="1.6" fill="#cf2448"/>
<rect x="91.10" y="302.58" width="1.6" height="1.6" fill="#cf2448"/>
<rect x="93.90" y="302.58" width="1.6" height="1.6" fill="#cf2448"/>
<rect x="96.70" y="302.58" width="1.6" height="1.6" fill="#cf2448"/>
<rect x="99.50" y="302.58" width="1.6" height="1.6" fill="#cf2448"/>
<rect x="102.30" y="302.58" width="1.6" height="1.6" fill="#cf2448"/>
<rect x="92.20" y="303.90" width="1.6" height="1.6" fill="#cf2448"/>
<rect x="95.20" y="303.90" width="1.6" height="1.6" fill="#cf2448"/>
<rect x="98.20" y="303.90" width="1.6" height="1.6" fill="#cf2448"/>
<rect x="101.20" y="303.90" width="1.6" height="1.6" fill="#cf2448"/>
<line x1="86.20" y1="299.50" x2="109.30" y2="299.50" stroke="#222" stroke-width="1.2"/>
<line x1="42.50" y1="222.90" x2="42.50" y2="305.20" stroke="#111" stroke-width="1.4"/>
<line x1="41.80" y1="304.50" x2="118.50" y2="304.50" stroke="#111" stroke-width="1.4"/>
<line x1="39.90" y1="304.70" x2="42.30" y2="304.70" stroke="#111" stroke-width="0.9"/>
<text x="37.30" y="307.20" font-size="7" text-anchor="end" fill="#555" font-weight="normal" font-style="normal">0</text>
<line x1="40.80" y1="302.06" x2="42.30" y2="302.06" stroke="#111" stroke-width="0.8"/>
<line x1="40.80" y1="299.41" x2="42.30" y2="299.41" stroke="#111" stroke-width="0.8"/>
<line x1="40.80" y1="296.77" x2="42.30" y2="296.77" stroke="#111" stroke-width="0.8"/>
<line x1="40.80" y1="294.13" x2="42.30" y2="294.13" stroke="#111" stroke-width="0.8"/>
<line x1="40.80" y1="291.48" x2="42.30" y2="291.48" stroke="#111" stroke-width="0.8"/>
<line x1="40.80" y1="288.84" x2="42.30" y2="288.84" stroke="#111" stroke-width="0.8"/>
<line x1="40.80" y1="286.20" x2="42.30" y2="286.20" stroke="#111" stroke-width="0.8"/>
<line x1="40.80" y1="283.55" x2="42.30" y2="283.55" stroke="#111" stroke-width="0.8"/>
<line x1="40.80" y1="280.91" x2="42.30" y2="280.91" stroke="#111" stroke-width="0.8"/>
<line x1="39.90" y1="278.27" x2="42.30" y2="278.27" stroke="#111" stroke-width="0.9"/>
<text x="37.30" y="280.77" font-size="7" text-anchor="end" fill="#555" font-weight="normal" font-style="normal">20</text>
<line x1="40.80" y1="275.62" x2="42.30" y2="275.62" stroke="#111" stroke-width="0.8"/>
<line x1="40.80" y1="272.98" x2="42.30" y2="272.98" stroke="#111" stroke-width="0.8"/>
<line x1="40.80" y1="270.34" x2="42.30" y2="270.34" stroke="#111" stroke-width="0.8"/>
<line x1="40.80" y1="267.69" x2="42.30" y2="267.69" stroke="#111" stroke-width="0.8"/>
<line x1="40.80" y1="265.05" x2="42.30" y2="265.05" stroke="#111" stroke-width="0.8"/>
<line x1="40.80" y1="262.41" x2="42.30" y2="262.41" stroke="#111" stroke-width="0.8"/>
<line x1="40.80" y1="259.76" x2="42.30" y2="259.76" stroke="#111" stroke-width="0.8"/>
<line x1="40.80" y1="257.12" x2="42.30" y2="257.12" stroke="#111" stroke-width="0.8"/>
<line x1="40.80" y1="254.48" x2="42.30" y2="254.48" stroke="#111" stroke-width="0.8"/>
<line x1="39.90" y1="251.83" x2="42.30" y2="251.83" stroke="#111" stroke-width="0.9"/>
<text x="37.30" y="254.33" font-size="7" text-anchor="end" fill="#555" font-weight="normal" font-style="normal">40</text>
<line x1="40.80" y1="249.19" x2="42.30" y2="249.19" stroke="#111" stroke-width="0.8"/>
<line x1="40.80" y1="246.55" x2="42.30" y2="246.55" stroke="#111" stroke-width="0.8"/>
<line x1="40.80" y1="243.90" x2="42.30" y2="243.90" stroke="#111" stroke-width="0.8"/>
<line x1="40.80" y1="241.26" x2="42.30" y2="241.26" stroke="#111" stroke-width="0.8"/>
<line x1="40.80" y1="238.62" x2="42.30" y2="238.62" stroke="#111" stroke-width="0.8"/>
<line x1="40.80" y1="235.97" x2="42.30" y2="235.97" stroke="#111" stroke-width="0.8"/>
<line x1="40.80" y1="233.33" x2="42.30" y2="233.33" stroke="#111" stroke-width="0.8"/>
<line x1="40.80" y1="230.69" x2="42.30" y2="230.69" stroke="#111" stroke-width="0.8"/>
<line x1="40.80" y1="228.04" x2="42.30" y2="228.04" stroke="#111" stroke-width="0.8"/>
<line x1="39.90" y1="225.40" x2="42.30" y2="225.40" stroke="#111" stroke-width="0.9"/>
<text x="37.30" y="227.90" font-size="7" text-anchor="end" fill="#555" font-weight="normal" font-style="normal">60</text>
<line x1="64.70" y1="304.70" x2="64.70" y2="307.20" stroke="#111" stroke-width="0.9"/>
<line x1="97.50" y1="304.70" x2="97.50" y2="307.20" stroke="#111" stroke-width="0.9"/>
<text transform="translate(23.50,264.75) rotate(-90)" x="0" y="0" font-size="8.8" font-weight="normal" text-anchor="middle" fill="#333" stroke="#333" stroke-width="0.22" textLength="62" lengthAdjust="spacingAndGlyphs">≥Gr3 NC AEs per patient</text>
<text x="65.45" y="316.70" font-size="7" text-anchor="middle" fill="#222" font-weight="normal" font-style="normal" textLength="38.60" lengthAdjust="spacingAndGlyphs" stroke="#222" stroke-width="0.12">Non-Hispanic</text>
<text x="97.50" y="316.70" font-size="7" text-anchor="middle" fill="#222" font-weight="normal" font-style="normal" textLength="23.30" lengthAdjust="spacingAndGlyphs" stroke="#222" stroke-width="0.12">Hispanic</text>
<text x="80.40" y="328.80" font-size="9" text-anchor="middle" fill="#383838" font-weight="bold" font-style="normal" textLength="21.50" lengthAdjust="spacingAndGlyphs">Ethnicity</text>
<line x1="62.00" y1="228.50" x2="92.00" y2="228.50" stroke="#444" stroke-width="1.1"/>
<line x1="62.00" y1="227.30" x2="62.00" y2="229.70" stroke="#444" stroke-width="0.9"/>
<line x1="92.00" y1="227.30" x2="92.00" y2="229.70" stroke="#444" stroke-width="0.9"/>
<text x="77.00" y="226.10" font-size="6.4" text-anchor="middle" fill="#333" textLength="19.40" lengthAdjust="spacingAndGlyphs"><tspan font-style="italic">P</tspan> = .67</text>
<text x="135.50" y="185.10" font-size="11.3" text-anchor="start" fill="#000" font-weight="bold" font-style="normal">F</text>
<text x="209.50" y="198.40" font-size="8" text-anchor="middle" fill="#262626" font-weight="normal" font-style="normal" textLength="80.50" lengthAdjust="spacingAndGlyphs" stroke="#262626" stroke-width="0.2"># of ≥ Gr 3 NC AEs in</text>
<text x="209.10" y="207.20" font-size="8" text-anchor="middle" fill="#262626" font-weight="normal" font-style="normal" textLength="61.20" lengthAdjust="spacingAndGlyphs" stroke="#262626" stroke-width="0.2">Patients by Race</text>
<rect x="192.80" y="226.96" width="1.6" height="1.6" fill="#8c1232"/>
<rect x="192.80" y="266.36" width="1.6" height="1.6" fill="#8c1232"/>
<rect x="192.80" y="267.85" width="1.6" height="1.6" fill="#8c1232"/>
<rect x="192.80" y="270.82" width="1.6" height="1.6" fill="#8c1232"/>
<rect x="192.80" y="273.79" width="1.6" height="1.6" fill="#8c1232"/>
<rect x="192.80" y="276.77" width="1.6" height="1.6" fill="#8c1232"/>
<rect x="192.80" y="279.74" width="1.6" height="1.6" fill="#8c1232"/>
<rect x="192.80" y="282.71" width="1.6" height="1.6" fill="#8c1232"/>
<rect x="192.80" y="285.69" width="1.6" height="1.6" fill="#8c1232"/>
<rect x="192.80" y="288.66" width="1.6" height="1.6" fill="#8c1232"/>
<polygon points="191.30,292.43 191.30,289.46 195.90,289.46 195.90,292.43" fill="#d0102c"/>
<polygon points="182.60,307.60 183.60,305.37 191.60,304.03 192.20,292.43 195.00,292.43 195.60,304.03 203.60,305.37 204.60,307.60" fill="#d0102c"/>
<line x1="182.30" y1="302.50" x2="205.80" y2="302.50" stroke="#222" stroke-width="1.2"/>
<rect x="227.80" y="273.79" width="1.6" height="1.6" fill="#8c1232"/>
<rect x="219.30" y="292.08" width="1.6" height="1.6" fill="#cf2448"/>
<rect x="222.70" y="292.08" width="1.6" height="1.6" fill="#cf2448"/>
<rect x="226.10" y="292.08" width="1.6" height="1.6" fill="#cf2448"/>
<rect x="229.50" y="292.08" width="1.6" height="1.6" fill="#cf2448"/>
<rect x="232.90" y="292.08" width="1.6" height="1.6" fill="#cf2448"/>
<rect x="236.30" y="292.08" width="1.6" height="1.6" fill="#cf2448"/>
<rect x="223.30" y="294.61" width="1.6" height="1.6" fill="#cf2448"/>
<rect x="226.30" y="294.61" width="1.6" height="1.6" fill="#cf2448"/>
<rect x="229.30" y="294.61" width="1.6" height="1.6" fill="#cf2448"/>
<rect x="232.30" y="294.61" width="1.6" height="1.6" fill="#cf2448"/>
<rect x="225.80" y="297.58" width="1.6" height="1.6" fill="#cf2448"/>
<rect x="229.80" y="297.58" width="1.6" height="1.6" fill="#cf2448"/>
<rect x="221.40" y="302.04" width="1.6" height="1.6" fill="#cf2448"/>
<rect x="224.60" y="302.04" width="1.6" height="1.6" fill="#cf2448"/>
<rect x="227.80" y="302.04" width="1.6" height="1.6" fill="#cf2448"/>
<rect x="231.00" y="302.04" width="1.6" height="1.6" fill="#cf2448"/>
<rect x="234.20" y="302.04" width="1.6" height="1.6" fill="#cf2448"/>
<rect x="223.30" y="304.27" width="1.6" height="1.6" fill="#cf2448"/>
<rect x="226.30" y="304.27" width="1.6" height="1.6" fill="#cf2448"/>
<rect x="229.30" y="304.27" width="1.6" height="1.6" fill="#cf2448"/>
<rect x="232.30" y="304.27" width="1.6" height="1.6" fill="#cf2448"/>
<rect x="220.30" y="306.50" width="1.6" height="1.6" fill="#cf2448"/>
<rect x="223.30" y="306.50" width="1.6" height="1.6" fill="#cf2448"/>
<rect x="226.30" y="306.50" width="1.6" height="1.6" fill="#cf2448"/>
<rect x="229.30" y="306.50" width="1.6" height="1.6" fill="#cf2448"/>
<rect x="232.30" y="306.50" width="1.6" height="1.6" fill="#cf2448"/>
<rect x="235.30" y="306.50" width="1.6" height="1.6" fill="#cf2448"/>
<line x1="217.00" y1="300.50" x2="240.00" y2="300.50" stroke="#222" stroke-width="1.2"/>
<line x1="169.50" y1="215.60" x2="169.50" y2="308.20" stroke="#111" stroke-width="1.4"/>
<line x1="168.80" y1="307.50" x2="252.00" y2="307.50" stroke="#111" stroke-width="1.4"/>
<line x1="167.20" y1="307.30" x2="169.60" y2="307.30" stroke="#111" stroke-width="0.9"/>
<text x="164.60" y="309.80" font-size="7" text-anchor="end" fill="#555" font-weight="normal" font-style="normal">0</text>
<line x1="168.10" y1="304.33" x2="169.60" y2="304.33" stroke="#111" stroke-width="0.8"/>
<line x1="168.10" y1="301.35" x2="169.60" y2="301.35" stroke="#111" stroke-width="0.8"/>
<line x1="168.10" y1="298.38" x2="169.60" y2="298.38" stroke="#111" stroke-width="0.8"/>
<line x1="168.10" y1="295.41" x2="169.60" y2="295.41" stroke="#111" stroke-width="0.8"/>
<line x1="168.10" y1="292.43" x2="169.60" y2="292.43" stroke="#111" stroke-width="0.8"/>
<line x1="168.10" y1="289.46" x2="169.60" y2="289.46" stroke="#111" stroke-width="0.8"/>
<line x1="168.10" y1="286.49" x2="169.60" y2="286.49" stroke="#111" stroke-width="0.8"/>
<line x1="168.10" y1="283.51" x2="169.60" y2="283.51" stroke="#111" stroke-width="0.8"/>
<line x1="168.10" y1="280.54" x2="169.60" y2="280.54" stroke="#111" stroke-width="0.8"/>
<line x1="167.20" y1="277.57" x2="169.60" y2="277.57" stroke="#111" stroke-width="0.9"/>
<text x="164.60" y="280.07" font-size="7" text-anchor="end" fill="#555" font-weight="normal" font-style="normal">20</text>
<line x1="168.10" y1="274.59" x2="169.60" y2="274.59" stroke="#111" stroke-width="0.8"/>
<line x1="168.10" y1="271.62" x2="169.60" y2="271.62" stroke="#111" stroke-width="0.8"/>
<line x1="168.10" y1="268.65" x2="169.60" y2="268.65" stroke="#111" stroke-width="0.8"/>
<line x1="168.10" y1="265.67" x2="169.60" y2="265.67" stroke="#111" stroke-width="0.8"/>
<line x1="168.10" y1="262.70" x2="169.60" y2="262.70" stroke="#111" stroke-width="0.8"/>
<line x1="168.10" y1="259.73" x2="169.60" y2="259.73" stroke="#111" stroke-width="0.8"/>
<line x1="168.10" y1="256.75" x2="169.60" y2="256.75" stroke="#111" stroke-width="0.8"/>
<line x1="168.10" y1="253.78" x2="169.60" y2="253.78" stroke="#111" stroke-width="0.8"/>
<line x1="168.10" y1="250.81" x2="169.60" y2="250.81" stroke="#111" stroke-width="0.8"/>
<line x1="167.20" y1="247.83" x2="169.60" y2="247.83" stroke="#111" stroke-width="0.9"/>
<text x="164.60" y="250.33" font-size="7" text-anchor="end" fill="#555" font-weight="normal" font-style="normal">40</text>
<line x1="168.10" y1="244.86" x2="169.60" y2="244.86" stroke="#111" stroke-width="0.8"/>
<line x1="168.10" y1="241.89" x2="169.60" y2="241.89" stroke="#111" stroke-width="0.8"/>
<line x1="168.10" y1="238.91" x2="169.60" y2="238.91" stroke="#111" stroke-width="0.8"/>
<line x1="168.10" y1="235.94" x2="169.60" y2="235.94" stroke="#111" stroke-width="0.8"/>
<line x1="168.10" y1="232.97" x2="169.60" y2="232.97" stroke="#111" stroke-width="0.8"/>
<line x1="168.10" y1="229.99" x2="169.60" y2="229.99" stroke="#111" stroke-width="0.8"/>
<line x1="168.10" y1="227.02" x2="169.60" y2="227.02" stroke="#111" stroke-width="0.8"/>
<line x1="168.10" y1="224.05" x2="169.60" y2="224.05" stroke="#111" stroke-width="0.8"/>
<line x1="168.10" y1="221.07" x2="169.60" y2="221.07" stroke="#111" stroke-width="0.8"/>
<line x1="167.20" y1="218.10" x2="169.60" y2="218.10" stroke="#111" stroke-width="0.9"/>
<text x="164.60" y="220.60" font-size="7" text-anchor="end" fill="#555" font-weight="normal" font-style="normal">60</text>
<line x1="193.60" y1="307.30" x2="193.60" y2="309.80" stroke="#111" stroke-width="0.9"/>
<line x1="228.60" y1="307.30" x2="228.60" y2="309.80" stroke="#111" stroke-width="0.9"/>
<text transform="translate(150.80,262.40) rotate(-90)" x="0" y="0" font-size="8.8" font-weight="normal" text-anchor="middle" fill="#333" stroke="#333" stroke-width="0.22" textLength="62" lengthAdjust="spacingAndGlyphs">≥Gr3 NC AEs per patient</text>
<text x="193.60" y="318.80" font-size="7" text-anchor="middle" fill="#222" font-weight="normal" font-style="normal" textLength="15.75" lengthAdjust="spacingAndGlyphs" stroke="#222" stroke-width="0.12">White</text>
<text x="228.60" y="318.80" font-size="7" text-anchor="middle" fill="#222" font-weight="normal" font-style="normal" textLength="29.10" lengthAdjust="spacingAndGlyphs" stroke="#222" stroke-width="0.12">Non-White</text>
<text x="211.10" y="330.70" font-size="9" text-anchor="middle" fill="#383838" font-weight="bold" font-style="normal" textLength="12.00" lengthAdjust="spacingAndGlyphs">Race</text>
<line x1="194.30" y1="222.50" x2="228.20" y2="222.50" stroke="#444" stroke-width="1.1"/>
<line x1="194.30" y1="221.30" x2="194.30" y2="223.70" stroke="#444" stroke-width="0.9"/>
<line x1="228.20" y1="221.30" x2="228.20" y2="223.70" stroke="#444" stroke-width="0.9"/>
<text x="211.25" y="219.70" font-size="6.4" text-anchor="middle" fill="#333" textLength="20.10" lengthAdjust="spacingAndGlyphs"><tspan font-style="italic">P</tspan> = .58</text>
<text x="257.50" y="185.10" font-size="11.3" text-anchor="start" fill="#000" font-weight="bold" font-style="normal">G</text>
<text x="333.50" y="198.40" font-size="8" text-anchor="middle" fill="#262626" font-weight="normal" font-style="normal" textLength="81.00" lengthAdjust="spacingAndGlyphs" stroke="#262626" stroke-width="0.2"># of ≥Gr 3 NC AEs by</text>
<text x="333.00" y="207.20" font-size="8" text-anchor="middle" fill="#262626" font-weight="normal" font-style="normal" textLength="93.00" lengthAdjust="spacingAndGlyphs" stroke="#262626" stroke-width="0.2">Prior Treatment Regimens</text>
<rect x="310.20" y="289.04" width="1.6" height="1.6" fill="#8c1232"/>
<rect x="310.20" y="290.40" width="1.6" height="1.6" fill="#8c1232"/>
<rect x="310.20" y="291.77" width="1.6" height="1.6" fill="#8c1232"/>
<rect x="310.20" y="293.13" width="1.6" height="1.6" fill="#8c1232"/>
<rect x="309.20" y="295.17" width="1.6" height="1.6" fill="#cf2448"/>
<rect x="311.20" y="295.17" width="1.6" height="1.6" fill="#cf2448"/>
<rect x="309.20" y="296.54" width="1.6" height="1.6" fill="#cf2448"/>
<rect x="311.20" y="296.54" width="1.6" height="1.6" fill="#cf2448"/>
<rect x="310.20" y="298.58" width="1.6" height="1.6" fill="#cf2448"/>
<rect x="310.20" y="301.31" width="1.6" height="1.6" fill="#cf2448"/>
<rect x="309.20" y="304.04" width="1.6" height="1.6" fill="#cf2448"/>
<rect x="311.20" y="304.04" width="1.6" height="1.6" fill="#cf2448"/>
<rect x="309.20" y="305.40" width="1.6" height="1.6" fill="#cf2448"/>
<rect x="311.20" y="305.40" width="1.6" height="1.6" fill="#cf2448"/>
<line x1="303.00" y1="303.50" x2="319.30" y2="303.50" stroke="#222" stroke-width="1.2"/>
<rect x="335.00" y="268.59" width="1.6" height="1.6" fill="#8c1232"/>
<rect x="335.00" y="271.32" width="1.6" height="1.6" fill="#8c1232"/>
<rect x="335.00" y="275.41" width="1.6" height="1.6" fill="#8c1232"/>
<rect x="335.00" y="279.50" width="1.6" height="1.6" fill="#8c1232"/>
<rect x="335.00" y="282.22" width="1.6" height="1.6" fill="#8c1232"/>
<rect x="335.00" y="286.31" width="1.6" height="1.6" fill="#8c1232"/>
<rect x="335.00" y="289.04" width="1.6" height="1.6" fill="#cf2448"/>
<rect x="333.00" y="290.40" width="1.6" height="1.6" fill="#cf2448"/>
<rect x="335.00" y="290.40" width="1.6" height="1.6" fill="#cf2448"/>
<rect x="337.00" y="290.40" width="1.6" height="1.6" fill="#cf2448"/>
<rect x="331.80" y="291.77" width="1.6" height="1.6" fill="#cf2448"/>
<rect x="333.40" y="291.77" width="1.6" height="1.6" fill="#cf2448"/>
<rect x="335.00" y="291.77" width="1.6" height="1.6" fill="#cf2448"/>
<rect x="336.60" y="291.77" width="1.6" height="1.6" fill="#cf2448"/>
<rect x="338.20" y="291.77" width="1.6" height="1.6" fill="#cf2448"/>
<rect x="333.00" y="293.13" width="1.6" height="1.6" fill="#cf2448"/>
<rect x="335.00" y="293.13" width="1.6" height="1.6" fill="#cf2448"/>
<rect x="337.00" y="293.13" width="1.6" height="1.6" fill="#cf2448"/>
<polygon points="328.80,306.47 329.00,303.75 330.80,301.84 331.80,300.06 333.30,297.61 334.60,295.29 337.00,295.29 338.30,297.61 339.80,300.06 340.80,301.84 342.60,303.75 342.80,306.47" fill="#cf2448"/>
<line x1="327.90" y1="301.50" x2="343.50" y2="301.50" stroke="#222" stroke-width="1.2"/>
<rect x="360.00" y="272.68" width="1.6" height="1.6" fill="#8c1232"/>
<rect x="360.00" y="275.41" width="1.6" height="1.6" fill="#8c1232"/>
<rect x="360.00" y="278.13" width="1.6" height="1.6" fill="#8c1232"/>
<rect x="360.00" y="280.86" width="1.6" height="1.6" fill="#8c1232"/>
<rect x="360.00" y="283.59" width="1.6" height="1.6" fill="#8c1232"/>
<rect x="360.00" y="286.31" width="1.6" height="1.6" fill="#8c1232"/>
<rect x="360.00" y="287.68" width="1.6" height="1.6" fill="#8c1232"/>
<rect x="360.00" y="289.04" width="1.6" height="1.6" fill="#8c1232"/>
<rect x="358.95" y="291.77" width="1.6" height="1.6" fill="#cf2448"/>
<rect x="361.05" y="291.77" width="1.6" height="1.6" fill="#cf2448"/>
<rect x="357.90" y="293.13" width="1.6" height="1.6" fill="#cf2448"/>
<rect x="360.00" y="293.13" width="1.6" height="1.6" fill="#cf2448"/>
<rect x="362.10" y="293.13" width="1.6" height="1.6" fill="#cf2448"/>
<rect x="356.85" y="294.77" width="1.6" height="1.6" fill="#cf2448"/>
<rect x="358.95" y="294.77" width="1.6" height="1.6" fill="#cf2448"/>
<rect x="361.05" y="294.77" width="1.6" height="1.6" fill="#cf2448"/>
<rect x="363.15" y="294.77" width="1.6" height="1.6" fill="#cf2448"/>
<rect x="355.80" y="296.40" width="1.6" height="1.6" fill="#cf2448"/>
<rect x="357.90" y="296.40" width="1.6" height="1.6" fill="#cf2448"/>
<rect x="360.00" y="296.40" width="1.6" height="1.6" fill="#cf2448"/>
<rect x="362.10" y="296.40" width="1.6" height="1.6" fill="#cf2448"/>
<rect x="364.20" y="296.40" width="1.6" height="1.6" fill="#cf2448"/>
<rect x="354.75" y="298.04" width="1.6" height="1.6" fill="#cf2448"/>
<rect x="356.85" y="298.04" width="1.6" height="1.6" fill="#cf2448"/>
<rect x="358.95" y="298.04" width="1.6" height="1.6" fill="#cf2448"/>
<rect x="361.05" y="298.04" width="1.6" height="1.6" fill="#cf2448"/>
<rect x="363.15" y="298.04" width="1.6" height="1.6" fill="#cf2448"/>
<rect x="365.25" y="298.04" width="1.6" height="1.6" fill="#cf2448"/>
<rect x="352.65" y="299.67" width="1.6" height="1.6" fill="#cf2448"/>
<rect x="354.75" y="299.67" width="1.6" height="1.6" fill="#cf2448"/>
<rect x="356.85" y="299.67" width="1.6" height="1.6" fill="#cf2448"/>
<rect x="358.95" y="299.67" width="1.6" height="1.6" fill="#cf2448"/>
<rect x="361.05" y="299.67" width="1.6" height="1.6" fill="#cf2448"/>
<rect x="363.15" y="299.67" width="1.6" height="1.6" fill="#cf2448"/>
<rect x="365.25" y="299.67" width="1.6" height="1.6" fill="#cf2448"/>
<rect x="367.35" y="299.67" width="1.6" height="1.6" fill="#cf2448"/>
<rect x="353.70" y="301.31" width="1.6" height="1.6" fill="#cf2448"/>
<rect x="355.80" y="301.31" width="1.6" height="1.6" fill="#cf2448"/>
<rect x="357.90" y="301.31" width="1.6" height="1.6" fill="#cf2448"/>
<rect x="360.00" y="301.31" width="1.6" height="1.6" fill="#cf2448"/>
<rect x="362.10" y="301.31" width="1.6" height="1.6" fill="#cf2448"/>
<rect x="364.20" y="301.31" width="1.6" height="1.6" fill="#cf2448"/>
<rect x="366.30" y="301.31" width="1.6" height="1.6" fill="#cf2448"/>
<rect x="353.70" y="302.95" width="1.6" height="1.6" fill="#cf2448"/>
<rect x="355.80" y="302.95" width="1.6" height="1.6" fill="#cf2448"/>
<rect x="357.90" y="302.95" width="1.6" height="1.6" fill="#cf2448"/>
<rect x="360.00" y="302.95" width="1.6" height="1.6" fill="#cf2448"/>
<rect x="362.10" y="302.95" width="1.6" height="1.6" fill="#cf2448"/>
<rect x="364.20" y="302.95" width="1.6" height="1.6" fill="#cf2448"/>
<rect x="366.30" y="302.95" width="1.6" height="1.6" fill="#cf2448"/>
<rect x="353.70" y="304.58" width="1.6" height="1.6" fill="#cf2448"/>
<rect x="355.80" y="304.58" width="1.6" height="1.6" fill="#cf2448"/>
<rect x="357.90" y="304.58" width="1.6" height="1.6" fill="#cf2448"/>
<rect x="360.00" y="304.58" width="1.6" height="1.6" fill="#cf2448"/>
<rect x="362.10" y="304.58" width="1.6" height="1.6" fill="#cf2448"/>
<rect x="364.20" y="304.58" width="1.6" height="1.6" fill="#cf2448"/>
<rect x="366.30" y="304.58" width="1.6" height="1.6" fill="#cf2448"/>
<line x1="352.80" y1="300.50" x2="369.10" y2="300.50" stroke="#222" stroke-width="1.2"/>
<line x1="294.50" y1="221.90" x2="294.50" y2="307.20" stroke="#111" stroke-width="1.4"/>
<line x1="293.80" y1="306.50" x2="377.70" y2="306.50" stroke="#111" stroke-width="1.4"/>
<line x1="292.00" y1="306.20" x2="294.40" y2="306.20" stroke="#111" stroke-width="0.9"/>
<text x="289.40" y="308.70" font-size="7" text-anchor="end" fill="#555" font-weight="normal" font-style="normal">0</text>
<line x1="292.90" y1="303.47" x2="294.40" y2="303.47" stroke="#111" stroke-width="0.8"/>
<line x1="292.90" y1="300.75" x2="294.40" y2="300.75" stroke="#111" stroke-width="0.8"/>
<line x1="292.90" y1="298.02" x2="294.40" y2="298.02" stroke="#111" stroke-width="0.8"/>
<line x1="292.90" y1="295.29" x2="294.40" y2="295.29" stroke="#111" stroke-width="0.8"/>
<line x1="292.90" y1="292.57" x2="294.40" y2="292.57" stroke="#111" stroke-width="0.8"/>
<line x1="292.90" y1="289.84" x2="294.40" y2="289.84" stroke="#111" stroke-width="0.8"/>
<line x1="292.90" y1="287.11" x2="294.40" y2="287.11" stroke="#111" stroke-width="0.8"/>
<line x1="292.90" y1="284.39" x2="294.40" y2="284.39" stroke="#111" stroke-width="0.8"/>
<line x1="292.90" y1="281.66" x2="294.40" y2="281.66" stroke="#111" stroke-width="0.8"/>
<line x1="292.00" y1="278.93" x2="294.40" y2="278.93" stroke="#111" stroke-width="0.9"/>
<text x="289.40" y="281.43" font-size="7" text-anchor="end" fill="#555" font-weight="normal" font-style="normal">20</text>
<line x1="292.90" y1="276.21" x2="294.40" y2="276.21" stroke="#111" stroke-width="0.8"/>
<line x1="292.90" y1="273.48" x2="294.40" y2="273.48" stroke="#111" stroke-width="0.8"/>
<line x1="292.90" y1="270.75" x2="294.40" y2="270.75" stroke="#111" stroke-width="0.8"/>
<line x1="292.90" y1="268.03" x2="294.40" y2="268.03" stroke="#111" stroke-width="0.8"/>
<line x1="292.90" y1="265.30" x2="294.40" y2="265.30" stroke="#111" stroke-width="0.8"/>
<line x1="292.90" y1="262.57" x2="294.40" y2="262.57" stroke="#111" stroke-width="0.8"/>
<line x1="292.90" y1="259.85" x2="294.40" y2="259.85" stroke="#111" stroke-width="0.8"/>
<line x1="292.90" y1="257.12" x2="294.40" y2="257.12" stroke="#111" stroke-width="0.8"/>
<line x1="292.90" y1="254.39" x2="294.40" y2="254.39" stroke="#111" stroke-width="0.8"/>
<line x1="292.00" y1="251.67" x2="294.40" y2="251.67" stroke="#111" stroke-width="0.9"/>
<text x="289.40" y="254.17" font-size="7" text-anchor="end" fill="#555" font-weight="normal" font-style="normal">40</text>
<line x1="292.90" y1="248.94" x2="294.40" y2="248.94" stroke="#111" stroke-width="0.8"/>
<line x1="292.90" y1="246.21" x2="294.40" y2="246.21" stroke="#111" stroke-width="0.8"/>
<line x1="292.90" y1="243.49" x2="294.40" y2="243.49" stroke="#111" stroke-width="0.8"/>
<line x1="292.90" y1="240.76" x2="294.40" y2="240.76" stroke="#111" stroke-width="0.8"/>
<line x1="292.90" y1="238.03" x2="294.40" y2="238.03" stroke="#111" stroke-width="0.8"/>
<line x1="292.90" y1="235.31" x2="294.40" y2="235.31" stroke="#111" stroke-width="0.8"/>
<line x1="292.90" y1="232.58" x2="294.40" y2="232.58" stroke="#111" stroke-width="0.8"/>
<line x1="292.90" y1="229.85" x2="294.40" y2="229.85" stroke="#111" stroke-width="0.8"/>
<line x1="292.90" y1="227.13" x2="294.40" y2="227.13" stroke="#111" stroke-width="0.8"/>
<line x1="292.00" y1="224.40" x2="294.40" y2="224.40" stroke="#111" stroke-width="0.9"/>
<text x="289.40" y="226.90" font-size="7" text-anchor="end" fill="#555" font-weight="normal" font-style="normal">60</text>
<line x1="311.00" y1="306.20" x2="311.00" y2="308.70" stroke="#111" stroke-width="0.9"/>
<line x1="335.80" y1="306.20" x2="335.80" y2="308.70" stroke="#111" stroke-width="0.9"/>
<line x1="360.80" y1="306.20" x2="360.80" y2="308.70" stroke="#111" stroke-width="0.9"/>
<text transform="translate(275.60,263.30) rotate(-90)" x="0" y="0" font-size="8.8" font-weight="normal" text-anchor="middle" fill="#333" stroke="#333" stroke-width="0.22" textLength="64" lengthAdjust="spacingAndGlyphs"># ≥ Gr 3 AEs per patient</text>
<text x="311.30" y="318.20" font-size="7" text-anchor="middle" fill="#222" font-weight="normal" font-style="normal" textLength="6.81" lengthAdjust="spacingAndGlyphs" stroke="#222" stroke-width="0.12">≤2</text>
<text x="336.00" y="318.20" font-size="7" text-anchor="middle" fill="#222" font-weight="normal" font-style="normal" textLength="8.90" lengthAdjust="spacingAndGlyphs" stroke="#222" stroke-width="0.12">3-5</text>
<text x="361.00" y="318.20" font-size="7" text-anchor="middle" fill="#222" font-weight="normal" font-style="normal" textLength="7.02" lengthAdjust="spacingAndGlyphs" stroke="#222" stroke-width="0.12">&gt;5</text>
<text x="335.80" y="330.30" font-size="9" text-anchor="middle" fill="#383838" font-weight="bold" font-style="normal" textLength="66.00" lengthAdjust="spacingAndGlyphs">Number of prior regimens</text>
<line x1="311.70" y1="220.50" x2="360.30" y2="220.50" stroke="#444" stroke-width="1.1"/>
<line x1="311.70" y1="219.30" x2="311.70" y2="221.70" stroke="#444" stroke-width="0.9"/>
<line x1="360.30" y1="219.30" x2="360.30" y2="221.70" stroke="#444" stroke-width="0.9"/>
<line x1="311.70" y1="231.50" x2="360.30" y2="231.50" stroke="#444" stroke-width="1.1"/>
<line x1="311.70" y1="230.30" x2="311.70" y2="232.70" stroke="#444" stroke-width="0.9"/>
<line x1="360.30" y1="230.30" x2="360.30" y2="232.70" stroke="#444" stroke-width="0.9"/>
<line x1="336.00" y1="231.00" x2="336.00" y2="234.70" stroke="#444" stroke-width="0.9"/>
<text x="333.90" y="218.60" font-size="6.4" text-anchor="middle" fill="#333" textLength="19.80" lengthAdjust="spacingAndGlyphs"><tspan font-style="italic">P</tspan> = .18</text>
<text x="323.05" y="228.80" font-size="6.4" text-anchor="middle" fill="#333" textLength="20.50" lengthAdjust="spacingAndGlyphs"><tspan font-style="italic">P</tspan> = .30</text>
<text x="350.05" y="228.80" font-size="6.4" text-anchor="middle" fill="#333" textLength="20.50" lengthAdjust="spacingAndGlyphs"><tspan font-style="italic">P</tspan> = .83</text>
<text x="377.75" y="261.30" font-size="6.4" text-anchor="middle" fill="#333" textLength="20.10" lengthAdjust="spacingAndGlyphs"><tspan font-style="italic">P</tspan> = .23</text>
<text x="391.25" y="185.10" font-size="11.3" text-anchor="start" fill="#000" font-weight="bold" font-style="normal">H</text>
<text x="471.25" y="198.40" font-size="8" text-anchor="middle" fill="#262626" font-weight="normal" font-style="normal" textLength="80.50" lengthAdjust="spacingAndGlyphs" stroke="#262626" stroke-width="0.2"># of ≥ Gr 3 NC AEs in</text>
<text x="471.40" y="207.20" font-size="8" text-anchor="middle" fill="#262626" font-weight="normal" font-style="normal" textLength="84.20" lengthAdjust="spacingAndGlyphs" stroke="#262626" stroke-width="0.2">Patients by Prior HSCT</text>
<rect x="449.40" y="235.75" width="1.6" height="1.6" fill="#8c1232"/>
<rect x="449.40" y="271.85" width="1.6" height="1.6" fill="#8c1232"/>
<rect x="449.40" y="274.62" width="1.6" height="1.6" fill="#8c1232"/>
<rect x="449.40" y="278.07" width="1.6" height="1.6" fill="#8c1232"/>
<rect x="449.40" y="281.53" width="1.6" height="1.6" fill="#8c1232"/>
<rect x="447.80" y="289.83" width="1.6" height="1.6" fill="#d0102c"/>
<rect x="449.40" y="289.83" width="1.6" height="1.6" fill="#d0102c"/>
<rect x="451.00" y="289.83" width="1.6" height="1.6" fill="#d0102c"/>
<rect x="449.40" y="291.49" width="1.6" height="1.6" fill="#d0102c"/>
<rect x="448.60" y="293.15" width="1.6" height="1.6" fill="#d0102c"/>
<rect x="450.20" y="293.15" width="1.6" height="1.6" fill="#d0102c"/>
<rect x="447.80" y="295.09" width="1.6" height="1.6" fill="#d0102c"/>
<rect x="449.40" y="295.09" width="1.6" height="1.6" fill="#d0102c"/>
<rect x="451.00" y="295.09" width="1.6" height="1.6" fill="#d0102c"/>
<rect x="446.20" y="296.33" width="1.6" height="1.6" fill="#d0102c"/>
<rect x="447.80" y="296.33" width="1.6" height="1.6" fill="#d0102c"/>
<rect x="449.40" y="296.33" width="1.6" height="1.6" fill="#d0102c"/>
<rect x="451.00" y="296.33" width="1.6" height="1.6" fill="#d0102c"/>
<rect x="452.60" y="296.33" width="1.6" height="1.6" fill="#d0102c"/>
<rect x="447.80" y="298.13" width="1.6" height="1.6" fill="#d0102c"/>
<rect x="449.40" y="298.13" width="1.6" height="1.6" fill="#d0102c"/>
<rect x="451.00" y="298.13" width="1.6" height="1.6" fill="#d0102c"/>
<rect x="446.20" y="299.52" width="1.6" height="1.6" fill="#d0102c"/>
<rect x="447.80" y="299.52" width="1.6" height="1.6" fill="#d0102c"/>
<rect x="449.40" y="299.52" width="1.6" height="1.6" fill="#d0102c"/>
<rect x="451.00" y="299.52" width="1.6" height="1.6" fill="#d0102c"/>
<rect x="452.60" y="299.52" width="1.6" height="1.6" fill="#d0102c"/>
<rect x="444.60" y="300.90" width="1.6" height="1.6" fill="#d0102c"/>
<rect x="446.20" y="300.90" width="1.6" height="1.6" fill="#d0102c"/>
<rect x="447.80" y="300.90" width="1.6" height="1.6" fill="#d0102c"/>
<rect x="449.40" y="300.90" width="1.6" height="1.6" fill="#d0102c"/>
<rect x="451.00" y="300.90" width="1.6" height="1.6" fill="#d0102c"/>
<rect x="452.60" y="300.90" width="1.6" height="1.6" fill="#d0102c"/>
<rect x="454.20" y="300.90" width="1.6" height="1.6" fill="#d0102c"/>
<rect x="446.20" y="302.28" width="1.6" height="1.6" fill="#d0102c"/>
<rect x="447.80" y="302.28" width="1.6" height="1.6" fill="#d0102c"/>
<rect x="449.40" y="302.28" width="1.6" height="1.6" fill="#d0102c"/>
<rect x="451.00" y="302.28" width="1.6" height="1.6" fill="#d0102c"/>
<rect x="452.60" y="302.28" width="1.6" height="1.6" fill="#d0102c"/>
<rect x="444.60" y="304.77" width="1.6" height="1.6" fill="#d0102c"/>
<rect x="446.20" y="304.77" width="1.6" height="1.6" fill="#d0102c"/>
<rect x="447.80" y="304.77" width="1.6" height="1.6" fill="#d0102c"/>
<rect x="449.40" y="304.77" width="1.6" height="1.6" fill="#d0102c"/>
<rect x="451.00" y="304.77" width="1.6" height="1.6" fill="#d0102c"/>
<rect x="452.60" y="304.77" width="1.6" height="1.6" fill="#d0102c"/>
<rect x="454.20" y="304.77" width="1.6" height="1.6" fill="#d0102c"/>
<rect x="443.80" y="306.16" width="1.6" height="1.6" fill="#d0102c"/>
<rect x="445.40" y="306.16" width="1.6" height="1.6" fill="#d0102c"/>
<rect x="447.00" y="306.16" width="1.6" height="1.6" fill="#d0102c"/>
<rect x="448.60" y="306.16" width="1.6" height="1.6" fill="#d0102c"/>
<rect x="450.20" y="306.16" width="1.6" height="1.6" fill="#d0102c"/>
<rect x="451.80" y="306.16" width="1.6" height="1.6" fill="#d0102c"/>
<rect x="453.40" y="306.16" width="1.6" height="1.6" fill="#d0102c"/>
<rect x="455.00" y="306.16" width="1.6" height="1.6" fill="#d0102c"/>
<rect x="443.00" y="307.54" width="1.6" height="1.6" fill="#d0102c"/>
<rect x="444.60" y="307.54" width="1.6" height="1.6" fill="#d0102c"/>
<rect x="446.20" y="307.54" width="1.6" height="1.6" fill="#d0102c"/>
<rect x="447.80" y="307.54" width="1.6" height="1.6" fill="#d0102c"/>
<rect x="449.40" y="307.54" width="1.6" height="1.6" fill="#d0102c"/>
<rect x="451.00" y="307.54" width="1.6" height="1.6" fill="#d0102c"/>
<rect x="452.60" y="307.54" width="1.6" height="1.6" fill="#d0102c"/>
<rect x="454.20" y="307.54" width="1.6" height="1.6" fill="#d0102c"/>
<rect x="455.80" y="307.54" width="1.6" height="1.6" fill="#d0102c"/>
<rect x="442.20" y="308.92" width="1.6" height="1.6" fill="#d0102c"/>
<rect x="443.80" y="308.92" width="1.6" height="1.6" fill="#d0102c"/>
<rect x="445.40" y="308.92" width="1.6" height="1.6" fill="#d0102c"/>
<rect x="447.00" y="308.92" width="1.6" height="1.6" fill="#d0102c"/>
<rect x="448.60" y="308.92" width="1.6" height="1.6" fill="#d0102c"/>
<rect x="450.20" y="308.92" width="1.6" height="1.6" fill="#d0102c"/>
<rect x="451.80" y="308.92" width="1.6" height="1.6" fill="#d0102c"/>
<rect x="453.40" y="308.92" width="1.6" height="1.6" fill="#d0102c"/>
<rect x="455.00" y="308.92" width="1.6" height="1.6" fill="#d0102c"/>
<rect x="456.60" y="308.92" width="1.6" height="1.6" fill="#d0102c"/>
<line x1="439.30" y1="304.50" x2="460.90" y2="304.50" stroke="#222" stroke-width="1.2"/>
<rect x="483.20" y="273.23" width="1.6" height="1.6" fill="#8c1232"/>
<rect x="483.20" y="277.38" width="1.6" height="1.6" fill="#8c1232"/>
<rect x="483.20" y="281.53" width="1.6" height="1.6" fill="#8c1232"/>
<rect x="482.20" y="291.91" width="1.6" height="1.6" fill="#cf2448"/>
<rect x="484.20" y="291.91" width="1.6" height="1.6" fill="#cf2448"/>
<rect x="481.20" y="293.29" width="1.6" height="1.6" fill="#cf2448"/>
<rect x="483.20" y="293.29" width="1.6" height="1.6" fill="#cf2448"/>
<rect x="485.20" y="293.29" width="1.6" height="1.6" fill="#cf2448"/>
<rect x="481.20" y="294.68" width="1.6" height="1.6" fill="#cf2448"/>
<rect x="483.20" y="294.68" width="1.6" height="1.6" fill="#cf2448"/>
<rect x="485.20" y="294.68" width="1.6" height="1.6" fill="#cf2448"/>
<rect x="482.20" y="296.33" width="1.6" height="1.6" fill="#cf2448"/>
<rect x="484.20" y="296.33" width="1.6" height="1.6" fill="#cf2448"/>
<rect x="481.40" y="297.72" width="1.6" height="1.6" fill="#cf2448"/>
<rect x="483.20" y="297.72" width="1.6" height="1.6" fill="#cf2448"/>
<rect x="485.00" y="297.72" width="1.6" height="1.6" fill="#cf2448"/>
<rect x="480.50" y="299.10" width="1.6" height="1.6" fill="#cf2448"/>
<rect x="482.30" y="299.10" width="1.6" height="1.6" fill="#cf2448"/>
<rect x="484.10" y="299.10" width="1.6" height="1.6" fill="#cf2448"/>
<rect x="485.90" y="299.10" width="1.6" height="1.6" fill="#cf2448"/>
<rect x="479.60" y="300.49" width="1.6" height="1.6" fill="#cf2448"/>
<rect x="481.40" y="300.49" width="1.6" height="1.6" fill="#cf2448"/>
<rect x="483.20" y="300.49" width="1.6" height="1.6" fill="#cf2448"/>
<rect x="485.00" y="300.49" width="1.6" height="1.6" fill="#cf2448"/>
<rect x="486.80" y="300.49" width="1.6" height="1.6" fill="#cf2448"/>
<rect x="479.60" y="301.87" width="1.6" height="1.6" fill="#cf2448"/>
<rect x="481.40" y="301.87" width="1.6" height="1.6" fill="#cf2448"/>
<rect x="483.20" y="301.87" width="1.6" height="1.6" fill="#cf2448"/>
<rect x="485.00" y="301.87" width="1.6" height="1.6" fill="#cf2448"/>
<rect x="486.80" y="301.87" width="1.6" height="1.6" fill="#cf2448"/>
<rect x="478.70" y="303.25" width="1.6" height="1.6" fill="#cf2448"/>
<rect x="480.50" y="303.25" width="1.6" height="1.6" fill="#cf2448"/>
<rect x="482.30" y="303.25" width="1.6" height="1.6" fill="#cf2448"/>
<rect x="484.10" y="303.25" width="1.6" height="1.6" fill="#cf2448"/>
<rect x="485.90" y="303.25" width="1.6" height="1.6" fill="#cf2448"/>
<rect x="487.70" y="303.25" width="1.6" height="1.6" fill="#cf2448"/>
<rect x="478.70" y="304.63" width="1.6" height="1.6" fill="#cf2448"/>
<rect x="480.50" y="304.63" width="1.6" height="1.6" fill="#cf2448"/>
<rect x="482.30" y="304.63" width="1.6" height="1.6" fill="#cf2448"/>
<rect x="484.10" y="304.63" width="1.6" height="1.6" fill="#cf2448"/>
<rect x="485.90" y="304.63" width="1.6" height="1.6" fill="#cf2448"/>
<rect x="487.70" y="304.63" width="1.6" height="1.6" fill="#cf2448"/>
<rect x="478.70" y="306.02" width="1.6" height="1.6" fill="#cf2448"/>
<rect x="480.50" y="306.02" width="1.6" height="1.6" fill="#cf2448"/>
<rect x="482.30" y="306.02" width="1.6" height="1.6" fill="#cf2448"/>
<rect x="484.10" y="306.02" width="1.6" height="1.6" fill="#cf2448"/>
<rect x="485.90" y="306.02" width="1.6" height="1.6" fill="#cf2448"/>
<rect x="487.70" y="306.02" width="1.6" height="1.6" fill="#cf2448"/>
<rect x="473.20" y="307.54" width="1.6" height="1.6" fill="#cf2448"/>
<rect x="475.20" y="307.54" width="1.6" height="1.6" fill="#cf2448"/>
<rect x="477.20" y="307.54" width="1.6" height="1.6" fill="#cf2448"/>
<rect x="479.20" y="307.54" width="1.6" height="1.6" fill="#cf2448"/>
<rect x="481.20" y="307.54" width="1.6" height="1.6" fill="#cf2448"/>
<rect x="483.20" y="307.54" width="1.6" height="1.6" fill="#cf2448"/>
<rect x="485.20" y="307.54" width="1.6" height="1.6" fill="#cf2448"/>
<rect x="487.20" y="307.54" width="1.6" height="1.6" fill="#cf2448"/>
<rect x="489.20" y="307.54" width="1.6" height="1.6" fill="#cf2448"/>
<rect x="491.20" y="307.54" width="1.6" height="1.6" fill="#cf2448"/>
<rect x="493.20" y="307.54" width="1.6" height="1.6" fill="#cf2448"/>
<rect x="478.70" y="308.92" width="1.6" height="1.6" fill="#cf2448"/>
<rect x="480.50" y="308.92" width="1.6" height="1.6" fill="#cf2448"/>
<rect x="482.30" y="308.92" width="1.6" height="1.6" fill="#cf2448"/>
<rect x="484.10" y="308.92" width="1.6" height="1.6" fill="#cf2448"/>
<rect x="485.90" y="308.92" width="1.6" height="1.6" fill="#cf2448"/>
<rect x="487.70" y="308.92" width="1.6" height="1.6" fill="#cf2448"/>
<line x1="473.00" y1="305.50" x2="495.30" y2="305.50" stroke="#222" stroke-width="1.2"/>
<line x1="428.50" y1="224.50" x2="428.50" y2="311.20" stroke="#111" stroke-width="1.4"/>
<line x1="427.80" y1="310.50" x2="506.50" y2="310.50" stroke="#111" stroke-width="1.4"/>
<line x1="426.00" y1="310.00" x2="428.40" y2="310.00" stroke="#111" stroke-width="0.9"/>
<text x="423.40" y="312.50" font-size="7" text-anchor="end" fill="#555" font-weight="normal" font-style="normal">0</text>
<line x1="426.90" y1="307.23" x2="428.40" y2="307.23" stroke="#111" stroke-width="0.8"/>
<line x1="426.90" y1="304.47" x2="428.40" y2="304.47" stroke="#111" stroke-width="0.8"/>
<line x1="426.90" y1="301.70" x2="428.40" y2="301.70" stroke="#111" stroke-width="0.8"/>
<line x1="426.90" y1="298.93" x2="428.40" y2="298.93" stroke="#111" stroke-width="0.8"/>
<line x1="426.90" y1="296.17" x2="428.40" y2="296.17" stroke="#111" stroke-width="0.8"/>
<line x1="426.90" y1="293.40" x2="428.40" y2="293.40" stroke="#111" stroke-width="0.8"/>
<line x1="426.90" y1="290.63" x2="428.40" y2="290.63" stroke="#111" stroke-width="0.8"/>
<line x1="426.90" y1="287.87" x2="428.40" y2="287.87" stroke="#111" stroke-width="0.8"/>
<line x1="426.90" y1="285.10" x2="428.40" y2="285.10" stroke="#111" stroke-width="0.8"/>
<line x1="426.00" y1="282.33" x2="428.40" y2="282.33" stroke="#111" stroke-width="0.9"/>
<text x="423.40" y="284.83" font-size="7" text-anchor="end" fill="#555" font-weight="normal" font-style="normal">20</text>
<line x1="426.90" y1="279.57" x2="428.40" y2="279.57" stroke="#111" stroke-width="0.8"/>
<line x1="426.90" y1="276.80" x2="428.40" y2="276.80" stroke="#111" stroke-width="0.8"/>
<line x1="426.90" y1="274.03" x2="428.40" y2="274.03" stroke="#111" stroke-width="0.8"/>
<line x1="426.90" y1="271.27" x2="428.40" y2="271.27" stroke="#111" stroke-width="0.8"/>
<line x1="426.90" y1="268.50" x2="428.40" y2="268.50" stroke="#111" stroke-width="0.8"/>
<line x1="426.90" y1="265.73" x2="428.40" y2="265.73" stroke="#111" stroke-width="0.8"/>
<line x1="426.90" y1="262.97" x2="428.40" y2="262.97" stroke="#111" stroke-width="0.8"/>
<line x1="426.90" y1="260.20" x2="428.40" y2="260.20" stroke="#111" stroke-width="0.8"/>
<line x1="426.90" y1="257.43" x2="428.40" y2="257.43" stroke="#111" stroke-width="0.8"/>
<line x1="426.00" y1="254.67" x2="428.40" y2="254.67" stroke="#111" stroke-width="0.9"/>
<text x="423.40" y="257.17" font-size="7" text-anchor="end" fill="#555" font-weight="normal" font-style="normal">40</text>
<line x1="426.90" y1="251.90" x2="428.40" y2="251.90" stroke="#111" stroke-width="0.8"/>
<line x1="426.90" y1="249.13" x2="428.40" y2="249.13" stroke="#111" stroke-width="0.8"/>
<line x1="426.90" y1="246.37" x2="428.40" y2="246.37" stroke="#111" stroke-width="0.8"/>
<line x1="426.90" y1="243.60" x2="428.40" y2="243.60" stroke="#111" stroke-width="0.8"/>
<line x1="426.90" y1="240.83" x2="428.40" y2="240.83" stroke="#111" stroke-width="0.8"/>
<line x1="426.90" y1="238.07" x2="428.40" y2="238.07" stroke="#111" stroke-width="0.8"/>
<line x1="426.90" y1="235.30" x2="428.40" y2="235.30" stroke="#111" stroke-width="0.8"/>
<line x1="426.90" y1="232.53" x2="428.40" y2="232.53" stroke="#111" stroke-width="0.8"/>
<line x1="426.90" y1="229.77" x2="428.40" y2="229.77" stroke="#111" stroke-width="0.8"/>
<line x1="426.00" y1="227.00" x2="428.40" y2="227.00" stroke="#111" stroke-width="0.9"/>
<text x="423.40" y="229.50" font-size="7" text-anchor="end" fill="#555" font-weight="normal" font-style="normal">60</text>
<line x1="450.20" y1="310.00" x2="450.20" y2="312.50" stroke="#111" stroke-width="0.9"/>
<line x1="484.00" y1="310.00" x2="484.00" y2="312.50" stroke="#111" stroke-width="0.9"/>
<text transform="translate(409.60,266.50) rotate(-90)" x="0" y="0" font-size="8.8" font-weight="normal" text-anchor="middle" fill="#333" stroke="#333" stroke-width="0.22" textLength="64" lengthAdjust="spacingAndGlyphs"># ≥ Gr 3 AEs per patient</text>
<text x="450.10" y="322.20" font-size="7" text-anchor="middle" fill="#222" font-weight="normal" font-style="normal" textLength="16.77" lengthAdjust="spacingAndGlyphs" stroke="#222" stroke-width="0.12">HSCT</text>
<text x="484.30" y="322.20" font-size="7" text-anchor="middle" fill="#222" font-weight="normal" font-style="normal" textLength="26.35" lengthAdjust="spacingAndGlyphs" stroke="#222" stroke-width="0.12">No HSCT</text>
<text x="466.70" y="333.00" font-size="9" text-anchor="middle" fill="#383838" font-weight="bold" font-style="normal" textLength="53.40" lengthAdjust="spacingAndGlyphs">History of prior HSCT</text>
<line x1="449.00" y1="231.50" x2="482.00" y2="231.50" stroke="#444" stroke-width="1.1"/>
<line x1="449.00" y1="230.30" x2="449.00" y2="232.70" stroke="#444" stroke-width="0.9"/>
<line x1="482.00" y1="230.30" x2="482.00" y2="232.70" stroke="#444" stroke-width="0.9"/>
<text x="465.80" y="228.80" font-size="6.4" text-anchor="middle" fill="#333" textLength="20.80" lengthAdjust="spacingAndGlyphs"><tspan font-style="italic">P</tspan> = .29</text>
<text x="79.50" y="348.10" font-size="11.3" text-anchor="start" fill="#000" font-weight="bold" font-style="normal">I</text>
<text x="151.25" y="361.60" font-size="8" text-anchor="middle" fill="#262626" font-weight="normal" font-style="normal" textLength="72.00" lengthAdjust="spacingAndGlyphs" stroke="#262626" stroke-width="0.2"># of ≥ Gr 3 NC AEs</text>
<text x="150.60" y="371.20" font-size="8" text-anchor="middle" fill="#262626" font-weight="normal" font-style="normal" textLength="66.70" lengthAdjust="spacingAndGlyphs" stroke="#262626" stroke-width="0.2">in Patients by Prior</text>
<text x="150.90" y="381.20" font-size="8" text-anchor="middle" fill="#262626" font-weight="normal" font-style="normal" textLength="26.20" lengthAdjust="spacingAndGlyphs" stroke="#262626" stroke-width="0.2">CAR Tx</text>
<rect x="133.00" y="441.46" width="1.6" height="1.6" fill="#8c1232"/>
<rect x="133.00" y="443.83" width="1.6" height="1.6" fill="#8c1232"/>
<rect x="133.00" y="447.60" width="1.6" height="1.6" fill="#8c1232"/>
<rect x="133.00" y="455.13" width="1.6" height="1.6" fill="#8c1232"/>
<rect x="133.00" y="458.20" width="1.6" height="1.6" fill="#8c1232"/>
<rect x="132.00" y="450.53" width="1.6" height="1.6" fill="#8c1232"/>
<rect x="134.00" y="451.23" width="1.6" height="1.6" fill="#8c1232"/>
<rect x="130.15" y="462.82" width="1.3" height="1.3" fill="#cf2448"/>
<rect x="132.15" y="462.82" width="1.3" height="1.3" fill="#cf2448"/>
<rect x="134.15" y="462.82" width="1.3" height="1.3" fill="#cf2448"/>
<rect x="136.15" y="462.82" width="1.3" height="1.3" fill="#cf2448"/>
<rect x="126.85" y="465.61" width="1.3" height="1.3" fill="#cf2448"/>
<rect x="128.95" y="465.61" width="1.3" height="1.3" fill="#cf2448"/>
<rect x="131.05" y="465.61" width="1.3" height="1.3" fill="#cf2448"/>
<rect x="133.15" y="465.61" width="1.3" height="1.3" fill="#cf2448"/>
<rect x="135.25" y="465.61" width="1.3" height="1.3" fill="#cf2448"/>
<rect x="137.35" y="465.61" width="1.3" height="1.3" fill="#cf2448"/>
<rect x="139.45" y="465.61" width="1.3" height="1.3" fill="#cf2448"/>
<rect x="124.35" y="467.56" width="1.3" height="1.3" fill="#cf2448"/>
<rect x="126.55" y="467.56" width="1.3" height="1.3" fill="#cf2448"/>
<rect x="128.75" y="467.56" width="1.3" height="1.3" fill="#cf2448"/>
<rect x="130.95" y="467.56" width="1.3" height="1.3" fill="#cf2448"/>
<rect x="133.15" y="467.56" width="1.3" height="1.3" fill="#cf2448"/>
<rect x="135.35" y="467.56" width="1.3" height="1.3" fill="#cf2448"/>
<rect x="137.55" y="467.56" width="1.3" height="1.3" fill="#cf2448"/>
<rect x="139.75" y="467.56" width="1.3" height="1.3" fill="#cf2448"/>
<rect x="141.95" y="467.56" width="1.3" height="1.3" fill="#cf2448"/>
<rect x="123.70" y="471.60" width="1.3" height="1.3" fill="#cf2448"/>
<rect x="125.80" y="471.60" width="1.3" height="1.3" fill="#cf2448"/>
<rect x="127.90" y="471.60" width="1.3" height="1.3" fill="#cf2448"/>
<rect x="130.00" y="471.60" width="1.3" height="1.3" fill="#cf2448"/>
<rect x="132.10" y="471.60" width="1.3" height="1.3" fill="#cf2448"/>
<rect x="134.20" y="471.60" width="1.3" height="1.3" fill="#cf2448"/>
<rect x="136.30" y="471.60" width="1.3" height="1.3" fill="#cf2448"/>
<rect x="138.40" y="471.60" width="1.3" height="1.3" fill="#cf2448"/>
<rect x="140.50" y="471.60" width="1.3" height="1.3" fill="#cf2448"/>
<rect x="142.60" y="471.60" width="1.3" height="1.3" fill="#cf2448"/>
<rect x="124.35" y="473.14" width="1.3" height="1.3" fill="#cf2448"/>
<rect x="126.55" y="473.14" width="1.3" height="1.3" fill="#cf2448"/>
<rect x="128.75" y="473.14" width="1.3" height="1.3" fill="#cf2448"/>
<rect x="130.95" y="473.14" width="1.3" height="1.3" fill="#cf2448"/>
<rect x="133.15" y="473.14" width="1.3" height="1.3" fill="#cf2448"/>
<rect x="135.35" y="473.14" width="1.3" height="1.3" fill="#cf2448"/>
<rect x="137.55" y="473.14" width="1.3" height="1.3" fill="#cf2448"/>
<rect x="139.75" y="473.14" width="1.3" height="1.3" fill="#cf2448"/>
<rect x="141.95" y="473.14" width="1.3" height="1.3" fill="#cf2448"/>
<rect x="123.15" y="474.53" width="1.3" height="1.3" fill="#cf2448"/>
<rect x="125.15" y="474.53" width="1.3" height="1.3" fill="#cf2448"/>
<rect x="127.15" y="474.53" width="1.3" height="1.3" fill="#cf2448"/>
<rect x="129.15" y="474.53" width="1.3" height="1.3" fill="#cf2448"/>
<rect x="131.15" y="474.53" width="1.3" height="1.3" fill="#cf2448"/>
<rect x="133.15" y="474.53" width="1.3" height="1.3" fill="#cf2448"/>
<rect x="135.15" y="474.53" width="1.3" height="1.3" fill="#cf2448"/>
<rect x="137.15" y="474.53" width="1.3" height="1.3" fill="#cf2448"/>
<rect x="139.15" y="474.53" width="1.3" height="1.3" fill="#cf2448"/>
<rect x="141.15" y="474.53" width="1.3" height="1.3" fill="#cf2448"/>
<rect x="143.15" y="474.53" width="1.3" height="1.3" fill="#cf2448"/>
<line x1="122.70" y1="470.50" x2="145.40" y2="470.50" stroke="#222" stroke-width="1.2"/>
<rect x="167.00" y="401.56" width="1.6" height="1.6" fill="#8c1232"/>
<rect x="167.00" y="437.83" width="1.6" height="1.6" fill="#8c1232"/>
<rect x="167.00" y="441.46" width="1.6" height="1.6" fill="#8c1232"/>
<rect x="167.00" y="445.09" width="1.6" height="1.6" fill="#8c1232"/>
<rect x="167.00" y="448.72" width="1.6" height="1.6" fill="#8c1232"/>
<rect x="167.00" y="451.79" width="1.6" height="1.6" fill="#8c1232"/>
<rect x="167.00" y="455.55" width="1.6" height="1.6" fill="#8c1232"/>
<polygon points="167.80,459.14 164.80,465.28 170.80,465.28" fill="none" stroke="#d0102c" stroke-width="1.3"/>
<rect x="167.00" y="462.53" width="1.6" height="1.6" fill="#8c1232"/>
<polygon points="165.60,474.21 165.60,466.12 170.00,466.12 170.00,474.21" fill="#d0102c"/>
<rect x="164.45" y="473.41" width="1.6" height="1.6" fill="#d0102c"/>
<rect x="166.15" y="473.41" width="1.6" height="1.6" fill="#d0102c"/>
<rect x="167.85" y="473.41" width="1.6" height="1.6" fill="#d0102c"/>
<rect x="169.55" y="473.41" width="1.6" height="1.6" fill="#d0102c"/>
<rect x="156.75" y="474.48" width="1.4" height="1.4" fill="#d0102c"/>
<rect x="159.05" y="474.48" width="1.4" height="1.4" fill="#d0102c"/>
<rect x="161.35" y="474.48" width="1.4" height="1.4" fill="#d0102c"/>
<rect x="163.65" y="474.48" width="1.4" height="1.4" fill="#d0102c"/>
<rect x="165.95" y="474.48" width="1.4" height="1.4" fill="#d0102c"/>
<rect x="168.25" y="474.48" width="1.4" height="1.4" fill="#d0102c"/>
<rect x="170.55" y="474.48" width="1.4" height="1.4" fill="#d0102c"/>
<rect x="172.85" y="474.48" width="1.4" height="1.4" fill="#d0102c"/>
<rect x="175.15" y="474.48" width="1.4" height="1.4" fill="#d0102c"/>
<rect x="177.45" y="474.48" width="1.4" height="1.4" fill="#d0102c"/>
<line x1="156.80" y1="471.50" x2="178.90" y2="471.50" stroke="#222" stroke-width="1.2"/>
<line x1="110.50" y1="390.10" x2="110.50" y2="477.20" stroke="#111" stroke-width="1.4"/>
<line x1="109.80" y1="476.50" x2="190.40" y2="476.50" stroke="#111" stroke-width="1.4"/>
<line x1="108.10" y1="476.30" x2="110.50" y2="476.30" stroke="#111" stroke-width="0.9"/>
<text x="105.50" y="478.80" font-size="7" text-anchor="end" fill="#555" font-weight="normal" font-style="normal">0</text>
<line x1="109.00" y1="473.51" x2="110.50" y2="473.51" stroke="#111" stroke-width="0.8"/>
<line x1="109.00" y1="470.72" x2="110.50" y2="470.72" stroke="#111" stroke-width="0.8"/>
<line x1="109.00" y1="467.93" x2="110.50" y2="467.93" stroke="#111" stroke-width="0.8"/>
<line x1="109.00" y1="465.14" x2="110.50" y2="465.14" stroke="#111" stroke-width="0.8"/>
<line x1="109.00" y1="462.35" x2="110.50" y2="462.35" stroke="#111" stroke-width="0.8"/>
<line x1="109.00" y1="459.56" x2="110.50" y2="459.56" stroke="#111" stroke-width="0.8"/>
<line x1="109.00" y1="456.77" x2="110.50" y2="456.77" stroke="#111" stroke-width="0.8"/>
<line x1="109.00" y1="453.98" x2="110.50" y2="453.98" stroke="#111" stroke-width="0.8"/>
<line x1="109.00" y1="451.19" x2="110.50" y2="451.19" stroke="#111" stroke-width="0.8"/>
<line x1="108.10" y1="448.40" x2="110.50" y2="448.40" stroke="#111" stroke-width="0.9"/>
<text x="105.50" y="450.90" font-size="7" text-anchor="end" fill="#555" font-weight="normal" font-style="normal">20</text>
<line x1="109.00" y1="445.61" x2="110.50" y2="445.61" stroke="#111" stroke-width="0.8"/>
<line x1="109.00" y1="442.82" x2="110.50" y2="442.82" stroke="#111" stroke-width="0.8"/>
<line x1="109.00" y1="440.03" x2="110.50" y2="440.03" stroke="#111" stroke-width="0.8"/>
<line x1="109.00" y1="437.24" x2="110.50" y2="437.24" stroke="#111" stroke-width="0.8"/>
<line x1="109.00" y1="434.45" x2="110.50" y2="434.45" stroke="#111" stroke-width="0.8"/>
<line x1="109.00" y1="431.66" x2="110.50" y2="431.66" stroke="#111" stroke-width="0.8"/>
<line x1="109.00" y1="428.87" x2="110.50" y2="428.87" stroke="#111" stroke-width="0.8"/>
<line x1="109.00" y1="426.08" x2="110.50" y2="426.08" stroke="#111" stroke-width="0.8"/>
<line x1="109.00" y1="423.29" x2="110.50" y2="423.29" stroke="#111" stroke-width="0.8"/>
<line x1="108.10" y1="420.50" x2="110.50" y2="420.50" stroke="#111" stroke-width="0.9"/>
<text x="105.50" y="423.00" font-size="7" text-anchor="end" fill="#555" font-weight="normal" font-style="normal">40</text>
<line x1="109.00" y1="417.71" x2="110.50" y2="417.71" stroke="#111" stroke-width="0.8"/>
<line x1="109.00" y1="414.92" x2="110.50" y2="414.92" stroke="#111" stroke-width="0.8"/>
<line x1="109.00" y1="412.13" x2="110.50" y2="412.13" stroke="#111" stroke-width="0.8"/>
<line x1="109.00" y1="409.34" x2="110.50" y2="409.34" stroke="#111" stroke-width="0.8"/>
<line x1="109.00" y1="406.55" x2="110.50" y2="406.55" stroke="#111" stroke-width="0.8"/>
<line x1="109.00" y1="403.76" x2="110.50" y2="403.76" stroke="#111" stroke-width="0.8"/>
<line x1="109.00" y1="400.97" x2="110.50" y2="400.97" stroke="#111" stroke-width="0.8"/>
<line x1="109.00" y1="398.18" x2="110.50" y2="398.18" stroke="#111" stroke-width="0.8"/>
<line x1="109.00" y1="395.39" x2="110.50" y2="395.39" stroke="#111" stroke-width="0.8"/>
<line x1="108.10" y1="392.60" x2="110.50" y2="392.60" stroke="#111" stroke-width="0.9"/>
<text x="105.50" y="395.10" font-size="7" text-anchor="end" fill="#555" font-weight="normal" font-style="normal">60</text>
<line x1="133.80" y1="476.30" x2="133.80" y2="478.80" stroke="#111" stroke-width="0.9"/>
<line x1="167.80" y1="476.30" x2="167.80" y2="478.80" stroke="#111" stroke-width="0.9"/>
<text transform="translate(91.70,432.45) rotate(-90)" x="0" y="0" font-size="8.8" font-weight="normal" text-anchor="middle" fill="#333" stroke="#333" stroke-width="0.22" textLength="64" lengthAdjust="spacingAndGlyphs"># ≥ Gr 3 AEs per patient</text>
<text x="133.80" y="488.00" font-size="7" text-anchor="middle" fill="#222" font-weight="normal" font-style="normal" textLength="27.72" lengthAdjust="spacingAndGlyphs" stroke="#222" stroke-width="0.12">Prior CAR</text>
<text x="167.80" y="488.00" font-size="7" text-anchor="middle" fill="#222" font-weight="normal" font-style="normal" textLength="22.59" lengthAdjust="spacingAndGlyphs" stroke="#222" stroke-width="0.12">No Prior</text>
<text x="167.80" y="495.60" font-size="7" text-anchor="middle" fill="#222" font-weight="normal" font-style="normal" textLength="13.01" lengthAdjust="spacingAndGlyphs" stroke="#222" stroke-width="0.12">CAR</text>
<text x="151.00" y="507.30" font-size="9" text-anchor="middle" fill="#383838" font-weight="bold" font-style="normal" textLength="66.80" lengthAdjust="spacingAndGlyphs">History of prior CAR T-Cell</text>
<text x="151.60" y="518.30" font-size="9" text-anchor="middle" fill="#383838" font-weight="bold" font-style="normal" textLength="19.00" lengthAdjust="spacingAndGlyphs">therapy</text>
<line x1="131.30" y1="394.50" x2="162.70" y2="394.50" stroke="#444" stroke-width="1.1"/>
<line x1="131.30" y1="393.30" x2="131.30" y2="395.70" stroke="#444" stroke-width="0.9"/>
<line x1="162.70" y1="393.30" x2="162.70" y2="395.70" stroke="#444" stroke-width="0.9"/>
<text x="146.50" y="391.90" font-size="6.4" text-anchor="middle" fill="#333" textLength="20.80" lengthAdjust="spacingAndGlyphs"><tspan font-style="italic">P</tspan> = .36</text>
<text x="207.00" y="348.10" font-size="11.3" text-anchor="start" fill="#000" font-weight="bold" font-style="normal">J</text>
<text x="279.75" y="361.60" font-size="8" text-anchor="middle" fill="#262626" font-weight="normal" font-style="normal" textLength="72.50" lengthAdjust="spacingAndGlyphs" stroke="#262626" stroke-width="0.2"># of ≥ Gr 3 NC AEs</text>
<text x="279.60" y="371.20" font-size="8" text-anchor="middle" fill="#262626" font-weight="normal" font-style="normal" textLength="67.20" lengthAdjust="spacingAndGlyphs" stroke="#262626" stroke-width="0.2">in Patients by Prior</text>
<text x="279.40" y="381.20" font-size="8" text-anchor="middle" fill="#262626" font-weight="normal" font-style="normal" textLength="51.70" lengthAdjust="spacingAndGlyphs" stroke="#262626" stroke-width="0.2">Blinatumomab</text>
<rect x="261.80" y="444.38" width="1.6" height="1.6" fill="#8c1232"/>
<rect x="261.80" y="447.45" width="1.6" height="1.6" fill="#8c1232"/>
<rect x="261.80" y="450.53" width="1.6" height="1.6" fill="#8c1232"/>
<rect x="261.80" y="454.86" width="1.6" height="1.6" fill="#8c1232"/>
<rect x="261.80" y="457.94" width="1.6" height="1.6" fill="#8c1232"/>
<rect x="259.00" y="459.62" width="1.6" height="1.6" fill="#8c1232"/>
<rect x="261.80" y="460.32" width="1.6" height="1.6" fill="#8c1232"/>
<rect x="264.60" y="459.62" width="1.6" height="1.6" fill="#8c1232"/>
<rect x="260.40" y="461.72" width="1.6" height="1.6" fill="#8c1232"/>
<rect x="263.20" y="461.72" width="1.6" height="1.6" fill="#8c1232"/>
<polygon points="261.00,469.37 259.70,468.25 259.70,466.57 261.00,465.45 264.20,465.45 265.50,466.57 265.50,468.25 264.20,469.37" fill="none" stroke="#cf2448" stroke-width="1.1"/>
<rect x="261.80" y="463.81" width="1.6" height="1.6" fill="#8c1232"/>
<rect x="261.80" y="466.61" width="1.6" height="1.6" fill="#8c1232"/>
<rect x="261.80" y="468.71" width="1.6" height="1.6" fill="#8c1232"/>
<rect x="261.80" y="470.81" width="1.6" height="1.6" fill="#8c1232"/>
<rect x="261.80" y="472.90" width="1.6" height="1.6" fill="#8c1232"/>
<rect x="259.20" y="471.36" width="1.6" height="1.6" fill="#cf2448"/>
<rect x="261.80" y="471.36" width="1.6" height="1.6" fill="#cf2448"/>
<rect x="264.40" y="471.36" width="1.6" height="1.6" fill="#cf2448"/>
<rect x="255.55" y="473.88" width="1.6" height="1.6" fill="#cf2448"/>
<rect x="258.05" y="473.88" width="1.6" height="1.6" fill="#cf2448"/>
<rect x="260.55" y="473.88" width="1.6" height="1.6" fill="#cf2448"/>
<rect x="263.05" y="473.88" width="1.6" height="1.6" fill="#cf2448"/>
<rect x="265.55" y="473.88" width="1.6" height="1.6" fill="#cf2448"/>
<rect x="268.05" y="473.88" width="1.6" height="1.6" fill="#cf2448"/>
<line x1="251.20" y1="470.50" x2="274.10" y2="470.50" stroke="#222" stroke-width="1.2"/>
<rect x="295.50" y="401.03" width="1.6" height="1.6" fill="#8c1232"/>
<rect x="295.50" y="436.97" width="1.6" height="1.6" fill="#8c1232"/>
<rect x="295.50" y="440.74" width="1.6" height="1.6" fill="#8c1232"/>
<rect x="295.50" y="443.82" width="1.6" height="1.6" fill="#8c1232"/>
<rect x="295.50" y="447.59" width="1.6" height="1.6" fill="#8c1232"/>
<rect x="295.50" y="451.23" width="1.6" height="1.6" fill="#8c1232"/>
<rect x="295.50" y="455.00" width="1.6" height="1.6" fill="#8c1232"/>
<rect x="295.50" y="456.82" width="1.6" height="1.6" fill="#8c1232"/>
<polygon points="294.20,464.89 292.80,463.72 292.80,462.15 294.20,460.98 298.40,460.98 299.80,462.15 299.80,463.72 298.40,464.89" fill="#d0102c"/>
<polygon points="289.50,476.08 290.80,473.28 292.80,470.21 294.50,465.59 298.10,465.59 299.80,470.21 301.80,473.28 303.10,476.08" fill="#d0102c"/>
<line x1="284.60" y1="471.50" x2="307.20" y2="471.50" stroke="#222" stroke-width="1.2"/>
<line x1="238.50" y1="389.40" x2="238.50" y2="476.20" stroke="#111" stroke-width="1.4"/>
<line x1="237.80" y1="475.50" x2="318.80" y2="475.50" stroke="#111" stroke-width="1.4"/>
<line x1="236.10" y1="475.80" x2="238.50" y2="475.80" stroke="#111" stroke-width="0.9"/>
<text x="233.50" y="478.30" font-size="7" text-anchor="end" fill="#555" font-weight="normal" font-style="normal">0</text>
<line x1="237.00" y1="473.00" x2="238.50" y2="473.00" stroke="#111" stroke-width="0.8"/>
<line x1="237.00" y1="470.21" x2="238.50" y2="470.21" stroke="#111" stroke-width="0.8"/>
<line x1="237.00" y1="467.41" x2="238.50" y2="467.41" stroke="#111" stroke-width="0.8"/>
<line x1="237.00" y1="464.61" x2="238.50" y2="464.61" stroke="#111" stroke-width="0.8"/>
<line x1="237.00" y1="461.82" x2="238.50" y2="461.82" stroke="#111" stroke-width="0.8"/>
<line x1="237.00" y1="459.02" x2="238.50" y2="459.02" stroke="#111" stroke-width="0.8"/>
<line x1="237.00" y1="456.22" x2="238.50" y2="456.22" stroke="#111" stroke-width="0.8"/>
<line x1="237.00" y1="453.43" x2="238.50" y2="453.43" stroke="#111" stroke-width="0.8"/>
<line x1="237.00" y1="450.63" x2="238.50" y2="450.63" stroke="#111" stroke-width="0.8"/>
<line x1="236.10" y1="447.83" x2="238.50" y2="447.83" stroke="#111" stroke-width="0.9"/>
<text x="233.50" y="450.33" font-size="7" text-anchor="end" fill="#555" font-weight="normal" font-style="normal">20</text>
<line x1="237.00" y1="445.04" x2="238.50" y2="445.04" stroke="#111" stroke-width="0.8"/>
<line x1="237.00" y1="442.24" x2="238.50" y2="442.24" stroke="#111" stroke-width="0.8"/>
<line x1="237.00" y1="439.44" x2="238.50" y2="439.44" stroke="#111" stroke-width="0.8"/>
<line x1="237.00" y1="436.65" x2="238.50" y2="436.65" stroke="#111" stroke-width="0.8"/>
<line x1="237.00" y1="433.85" x2="238.50" y2="433.85" stroke="#111" stroke-width="0.8"/>
<line x1="237.00" y1="431.05" x2="238.50" y2="431.05" stroke="#111" stroke-width="0.8"/>
<line x1="237.00" y1="428.26" x2="238.50" y2="428.26" stroke="#111" stroke-width="0.8"/>
<line x1="237.00" y1="425.46" x2="238.50" y2="425.46" stroke="#111" stroke-width="0.8"/>
<line x1="237.00" y1="422.66" x2="238.50" y2="422.66" stroke="#111" stroke-width="0.8"/>
<line x1="236.10" y1="419.87" x2="238.50" y2="419.87" stroke="#111" stroke-width="0.9"/>
<text x="233.50" y="422.37" font-size="7" text-anchor="end" fill="#555" font-weight="normal" font-style="normal">40</text>
<line x1="237.00" y1="417.07" x2="238.50" y2="417.07" stroke="#111" stroke-width="0.8"/>
<line x1="237.00" y1="414.27" x2="238.50" y2="414.27" stroke="#111" stroke-width="0.8"/>
<line x1="237.00" y1="411.48" x2="238.50" y2="411.48" stroke="#111" stroke-width="0.8"/>
<line x1="237.00" y1="408.68" x2="238.50" y2="408.68" stroke="#111" stroke-width="0.8"/>
<line x1="237.00" y1="405.88" x2="238.50" y2="405.88" stroke="#111" stroke-width="0.8"/>
<line x1="237.00" y1="403.09" x2="238.50" y2="403.09" stroke="#111" stroke-width="0.8"/>
<line x1="237.00" y1="400.29" x2="238.50" y2="400.29" stroke="#111" stroke-width="0.8"/>
<line x1="237.00" y1="397.49" x2="238.50" y2="397.49" stroke="#111" stroke-width="0.8"/>
<line x1="237.00" y1="394.70" x2="238.50" y2="394.70" stroke="#111" stroke-width="0.8"/>
<line x1="236.10" y1="391.90" x2="238.50" y2="391.90" stroke="#111" stroke-width="0.9"/>
<text x="233.50" y="394.40" font-size="7" text-anchor="end" fill="#555" font-weight="normal" font-style="normal">60</text>
<line x1="262.60" y1="475.80" x2="262.60" y2="478.30" stroke="#111" stroke-width="0.9"/>
<line x1="296.30" y1="475.80" x2="296.30" y2="478.30" stroke="#111" stroke-width="0.9"/>
<text transform="translate(219.70,431.85) rotate(-90)" x="0" y="0" font-size="8.8" font-weight="normal" text-anchor="middle" fill="#333" stroke="#333" stroke-width="0.22" textLength="64" lengthAdjust="spacingAndGlyphs"># ≥ Gr 3 AEs per patient</text>
<text x="262.70" y="487.50" font-size="7" text-anchor="middle" fill="#222" font-weight="normal" font-style="normal" textLength="28.41" lengthAdjust="spacingAndGlyphs" stroke="#222" stroke-width="0.12">Prior Blina</text>
<text x="296.20" y="487.50" font-size="7" text-anchor="middle" fill="#222" font-weight="normal" font-style="normal" textLength="22.59" lengthAdjust="spacingAndGlyphs" stroke="#222" stroke-width="0.12">No Prior</text>
<text x="296.20" y="495.20" font-size="7" text-anchor="middle" fill="#222" font-weight="normal" font-style="normal" textLength="13.70" lengthAdjust="spacingAndGlyphs" stroke="#222" stroke-width="0.12">Blina</text>
<text x="279.40" y="507.05" font-size="9" text-anchor="middle" fill="#383838" font-weight="bold" font-style="normal" textLength="76.25" lengthAdjust="spacingAndGlyphs">History of prior blinatumomab</text>
<line x1="262.30" y1="398.50" x2="296.70" y2="398.50" stroke="#444" stroke-width="1.1"/>
<line x1="262.30" y1="397.30" x2="262.30" y2="399.70" stroke="#444" stroke-width="0.9"/>
<line x1="296.70" y1="397.30" x2="296.70" y2="399.70" stroke="#444" stroke-width="0.9"/>
<text x="278.05" y="396.50" font-size="6.4" text-anchor="middle" fill="#333" textLength="20.10" lengthAdjust="spacingAndGlyphs"><tspan font-style="italic">P</tspan> = .11</text>
<text x="329.60" y="348.10" font-size="11.3" text-anchor="start" fill="#000" font-weight="bold" font-style="normal">K</text>
<text x="401.00" y="361.60" font-size="8" text-anchor="middle" fill="#262626" font-weight="normal" font-style="normal" textLength="80.00" lengthAdjust="spacingAndGlyphs" stroke="#262626" stroke-width="0.2"># of ≥ Gr 3 NC AEs in</text>
<text x="400.60" y="371.20" font-size="8" text-anchor="middle" fill="#262626" font-weight="normal" font-style="normal" textLength="59.20" lengthAdjust="spacingAndGlyphs" stroke="#262626" stroke-width="0.2">Patients by Prior</text>
<text x="401.25" y="381.20" font-size="8" text-anchor="middle" fill="#262626" font-weight="normal" font-style="normal" textLength="40.50" lengthAdjust="spacingAndGlyphs" stroke="#262626" stroke-width="0.2">Inotuzumab</text>
<rect x="384.70" y="442.36" width="1.6" height="1.6" fill="#8c1232"/>
<rect x="384.70" y="446.44" width="1.6" height="1.6" fill="#8c1232"/>
<rect x="379.70" y="450.52" width="1.6" height="1.6" fill="#8c1232"/>
<rect x="387.70" y="451.20" width="1.6" height="1.6" fill="#8c1232"/>
<rect x="390.70" y="451.20" width="1.6" height="1.6" fill="#8c1232"/>
<rect x="384.70" y="455.96" width="1.6" height="1.6" fill="#8c1232"/>
<rect x="384.70" y="460.04" width="1.6" height="1.6" fill="#8c1232"/>
<rect x="379.20" y="462.76" width="1.6" height="1.6" fill="#8c1232"/>
<rect x="384.70" y="462.76" width="1.6" height="1.6" fill="#8c1232"/>
<rect x="389.70" y="462.76" width="1.6" height="1.6" fill="#8c1232"/>
<rect x="378.70" y="466.84" width="1.6" height="1.6" fill="#cf2448"/>
<rect x="381.70" y="466.84" width="1.6" height="1.6" fill="#cf2448"/>
<rect x="384.70" y="466.84" width="1.6" height="1.6" fill="#cf2448"/>
<rect x="387.70" y="466.84" width="1.6" height="1.6" fill="#cf2448"/>
<rect x="390.70" y="466.84" width="1.6" height="1.6" fill="#cf2448"/>
<rect x="380.70" y="469.56" width="1.6" height="1.6" fill="#cf2448"/>
<rect x="384.70" y="469.56" width="1.6" height="1.6" fill="#cf2448"/>
<rect x="388.70" y="469.56" width="1.6" height="1.6" fill="#cf2448"/>
<rect x="379.70" y="472.96" width="1.6" height="1.6" fill="#cf2448"/>
<rect x="384.70" y="472.96" width="1.6" height="1.6" fill="#cf2448"/>
<rect x="389.70" y="472.96" width="1.6" height="1.6" fill="#cf2448"/>
<rect x="382.70" y="475.00" width="1.6" height="1.6" fill="#cf2448"/>
<rect x="386.70" y="475.00" width="1.6" height="1.6" fill="#cf2448"/>
<line x1="376.10" y1="467.50" x2="396.30" y2="467.50" stroke="#222" stroke-width="1.2"/>
<rect x="415.00" y="402.65" width="1.6" height="1.6" fill="#8c1232"/>
<rect x="415.00" y="438.28" width="1.6" height="1.6" fill="#8c1232"/>
<rect x="415.00" y="439.64" width="1.6" height="1.6" fill="#8c1232"/>
<rect x="415.00" y="445.08" width="1.6" height="1.6" fill="#8c1232"/>
<rect x="415.00" y="454.60" width="1.6" height="1.6" fill="#8c1232"/>
<rect x="415.00" y="457.32" width="1.6" height="1.6" fill="#8c1232"/>
<rect x="415.00" y="458.68" width="1.6" height="1.6" fill="#8c1232"/>
<polygon points="414.30,464.92 413.30,463.56 413.30,461.52 418.30,461.52 418.30,463.56 417.30,464.92" fill="#d0102c"/>
<polygon points="412.80,473.76 412.80,465.60 418.80,465.60 418.80,473.76" fill="#d0102c"/>
<rect x="405.10" y="473.64" width="1.6" height="1.6" fill="#d0102c"/>
<rect x="407.30" y="473.64" width="1.6" height="1.6" fill="#d0102c"/>
<rect x="409.50" y="473.64" width="1.6" height="1.6" fill="#d0102c"/>
<rect x="411.70" y="473.64" width="1.6" height="1.6" fill="#d0102c"/>
<rect x="413.90" y="473.64" width="1.6" height="1.6" fill="#d0102c"/>
<rect x="416.10" y="473.64" width="1.6" height="1.6" fill="#d0102c"/>
<rect x="418.30" y="473.64" width="1.6" height="1.6" fill="#d0102c"/>
<rect x="420.50" y="473.64" width="1.6" height="1.6" fill="#d0102c"/>
<rect x="422.70" y="473.64" width="1.6" height="1.6" fill="#d0102c"/>
<rect x="424.90" y="473.64" width="1.6" height="1.6" fill="#d0102c"/>
<rect x="406.00" y="475.00" width="1.6" height="1.6" fill="#d0102c"/>
<rect x="408.00" y="475.00" width="1.6" height="1.6" fill="#d0102c"/>
<rect x="410.00" y="475.00" width="1.6" height="1.6" fill="#d0102c"/>
<rect x="412.00" y="475.00" width="1.6" height="1.6" fill="#d0102c"/>
<rect x="414.00" y="475.00" width="1.6" height="1.6" fill="#d0102c"/>
<rect x="416.00" y="475.00" width="1.6" height="1.6" fill="#d0102c"/>
<rect x="418.00" y="475.00" width="1.6" height="1.6" fill="#d0102c"/>
<rect x="420.00" y="475.00" width="1.6" height="1.6" fill="#d0102c"/>
<rect x="422.00" y="475.00" width="1.6" height="1.6" fill="#d0102c"/>
<rect x="424.00" y="475.00" width="1.6" height="1.6" fill="#d0102c"/>
<line x1="406.00" y1="471.50" x2="425.40" y2="471.50" stroke="#222" stroke-width="1.2"/>
<line x1="366.50" y1="391.70" x2="366.50" y2="476.20" stroke="#111" stroke-width="1.4"/>
<line x1="365.80" y1="475.50" x2="435.40" y2="475.50" stroke="#111" stroke-width="1.4"/>
<line x1="363.80" y1="475.80" x2="366.20" y2="475.80" stroke="#111" stroke-width="0.9"/>
<text x="361.20" y="478.30" font-size="7" text-anchor="end" fill="#555" font-weight="normal" font-style="normal">0</text>
<line x1="364.70" y1="473.08" x2="366.20" y2="473.08" stroke="#111" stroke-width="0.8"/>
<line x1="364.70" y1="470.36" x2="366.20" y2="470.36" stroke="#111" stroke-width="0.8"/>
<line x1="364.70" y1="467.64" x2="366.20" y2="467.64" stroke="#111" stroke-width="0.8"/>
<line x1="364.70" y1="464.92" x2="366.20" y2="464.92" stroke="#111" stroke-width="0.8"/>
<line x1="364.70" y1="462.20" x2="366.20" y2="462.20" stroke="#111" stroke-width="0.8"/>
<line x1="364.70" y1="459.48" x2="366.20" y2="459.48" stroke="#111" stroke-width="0.8"/>
<line x1="364.70" y1="456.76" x2="366.20" y2="456.76" stroke="#111" stroke-width="0.8"/>
<line x1="364.70" y1="454.04" x2="366.20" y2="454.04" stroke="#111" stroke-width="0.8"/>
<line x1="364.70" y1="451.32" x2="366.20" y2="451.32" stroke="#111" stroke-width="0.8"/>
<line x1="363.80" y1="448.60" x2="366.20" y2="448.60" stroke="#111" stroke-width="0.9"/>
<text x="361.20" y="451.10" font-size="7" text-anchor="end" fill="#555" font-weight="normal" font-style="normal">20</text>
<line x1="364.70" y1="445.88" x2="366.20" y2="445.88" stroke="#111" stroke-width="0.8"/>
<line x1="364.70" y1="443.16" x2="366.20" y2="443.16" stroke="#111" stroke-width="0.8"/>
<line x1="364.70" y1="440.44" x2="366.20" y2="440.44" stroke="#111" stroke-width="0.8"/>
<line x1="364.70" y1="437.72" x2="366.20" y2="437.72" stroke="#111" stroke-width="0.8"/>
<line x1="364.70" y1="435.00" x2="366.20" y2="435.00" stroke="#111" stroke-width="0.8"/>
<line x1="364.70" y1="432.28" x2="366.20" y2="432.28" stroke="#111" stroke-width="0.8"/>
<line x1="364.70" y1="429.56" x2="366.20" y2="429.56" stroke="#111" stroke-width="0.8"/>
<line x1="364.70" y1="426.84" x2="366.20" y2="426.84" stroke="#111" stroke-width="0.8"/>
<line x1="364.70" y1="424.12" x2="366.20" y2="424.12" stroke="#111" stroke-width="0.8"/>
<line x1="363.80" y1="421.40" x2="366.20" y2="421.40" stroke="#111" stroke-width="0.9"/>
<text x="361.20" y="423.90" font-size="7" text-anchor="end" fill="#555" font-weight="normal" font-style="normal">40</text>
<line x1="364.70" y1="418.68" x2="366.20" y2="418.68" stroke="#111" stroke-width="0.8"/>
<line x1="364.70" y1="415.96" x2="366.20" y2="415.96" stroke="#111" stroke-width="0.8"/>
<line x1="364.70" y1="413.24" x2="366.20" y2="413.24" stroke="#111" stroke-width="0.8"/>
<line x1="364.70" y1="410.52" x2="366.20" y2="410.52" stroke="#111" stroke-width="0.8"/>
<line x1="364.70" y1="407.80" x2="366.20" y2="407.80" stroke="#111" stroke-width="0.8"/>
<line x1="364.70" y1="405.08" x2="366.20" y2="405.08" stroke="#111" stroke-width="0.8"/>
<line x1="364.70" y1="402.36" x2="366.20" y2="402.36" stroke="#111" stroke-width="0.8"/>
<line x1="364.70" y1="399.64" x2="366.20" y2="399.64" stroke="#111" stroke-width="0.8"/>
<line x1="364.70" y1="396.92" x2="366.20" y2="396.92" stroke="#111" stroke-width="0.8"/>
<line x1="363.80" y1="394.20" x2="366.20" y2="394.20" stroke="#111" stroke-width="0.9"/>
<text x="361.20" y="396.70" font-size="7" text-anchor="end" fill="#555" font-weight="normal" font-style="normal">60</text>
<line x1="385.50" y1="475.80" x2="385.50" y2="478.30" stroke="#111" stroke-width="0.9"/>
<line x1="415.80" y1="475.80" x2="415.80" y2="478.30" stroke="#111" stroke-width="0.9"/>
<text transform="translate(347.40,433.00) rotate(-90)" x="0" y="0" font-size="8.8" font-weight="normal" text-anchor="middle" fill="#333" stroke="#333" stroke-width="0.22" textLength="64" lengthAdjust="spacingAndGlyphs"># ≥ Gr 3 AEs per patient</text>
<text x="385.00" y="487.50" font-size="7" text-anchor="middle" fill="#222" font-weight="normal" font-style="normal" textLength="23.28" lengthAdjust="spacingAndGlyphs" stroke="#222" stroke-width="0.12">Prior Ino</text>
<text x="415.80" y="487.50" font-size="7" text-anchor="middle" fill="#222" font-weight="normal" font-style="normal" textLength="22.59" lengthAdjust="spacingAndGlyphs" stroke="#222" stroke-width="0.12">No Prior</text>
<text x="415.80" y="495.60" font-size="7" text-anchor="middle" fill="#222" font-weight="normal" font-style="normal" textLength="8.56" lengthAdjust="spacingAndGlyphs" stroke="#222" stroke-width="0.12">Ino</text>
<text x="401.20" y="506.80" font-size="9" text-anchor="middle" fill="#383838" font-weight="bold" font-style="normal" textLength="70.00" lengthAdjust="spacingAndGlyphs">History of prior inotuzumab</text>
<line x1="385.10" y1="400.50" x2="417.00" y2="400.50" stroke="#444" stroke-width="1.1"/>
<line x1="385.10" y1="399.30" x2="385.10" y2="401.70" stroke="#444" stroke-width="0.9"/>
<line x1="417.00" y1="399.30" x2="417.00" y2="401.70" stroke="#444" stroke-width="0.9"/>
<text x="400.45" y="397.70" font-size="6.4" text-anchor="middle" fill="#333" textLength="24.70" lengthAdjust="spacingAndGlyphs"><tspan font-style="italic">P</tspan> = .012</text>
</svg>
<svg class="bd" width="520" height="526" viewBox="0 0 520 526">
<rect x="0" y="0" width="520" height="1" fill="#5c5c5c"/>
<rect x="0" y="0" width="1.2" height="526" fill="#4a4a4a"/>
<rect x="518.6" y="0" width="1.4" height="526" fill="#383838"/>
<rect x="0" y="524.2" width="520" height="1.8" fill="#333"/>
</svg></body></html>
